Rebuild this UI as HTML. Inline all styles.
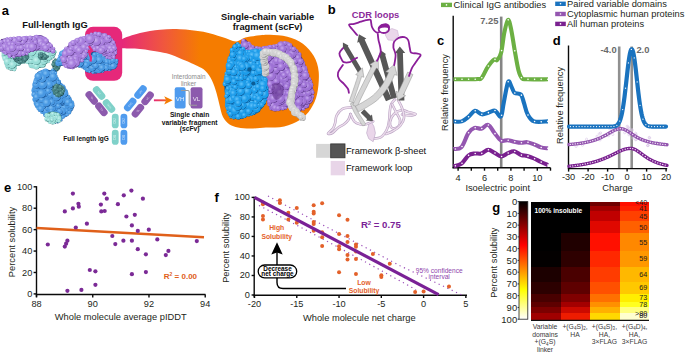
<!DOCTYPE html>
<html><head><meta charset="utf-8"><style>
html,body{margin:0;padding:0;background:#fff;width:685px;height:353px;overflow:hidden}
svg{display:block}
text{font-family:"Liberation Sans",sans-serif}
</style></head><body>
<svg width="685" height="353" viewBox="0 0 685 353" font-family="Liberation Sans">
<rect x="441" y="2.7" width="11" height="4.4" fill="#6cb043"/>
<circle cx="446.5" cy="4.9" r="0.8" fill="#fff"/>
<text x="453.6" y="8.2" font-size="9.3" text-anchor="start" font-weight="normal" fill="#231f20" >Clinical IgG antibodies</text>
<rect x="555.2" y="1.5999999999999996" width="10.599999999999909" height="4.4" fill="#1a73bf"/>
<circle cx="560.5" cy="3.8" r="0.8" fill="#fff"/>
<text x="567.1" y="7.1" font-size="9.3" text-anchor="start" font-weight="normal" fill="#231f20" >Paired variable domains</text>
<rect x="555.2" y="11.8" width="10.599999999999909" height="4.4" fill="#9456b0"/>
<circle cx="560.5" cy="14.0" r="0.8" fill="#fff"/>
<text x="567.1" y="17.2" font-size="9.3" text-anchor="start" font-weight="normal" fill="#231f20" >Cytoplasmic human proteins</text>
<rect x="555.2" y="21.7" width="10.599999999999909" height="4.4" fill="#7a2190"/>
<circle cx="560.5" cy="23.9" r="0.8" fill="#fff"/>
<text x="567.1" y="27.1" font-size="9.3" text-anchor="start" font-weight="normal" fill="#231f20" >All human proteins</text>
<text x="436.9" y="45.0" font-size="13" text-anchor="start" font-weight="bold" fill="#000" >c</text>
<line x1="501.2" y1="16.6" x2="501.2" y2="167.7" stroke="#858585" stroke-width="2.6" />
<text x="498.4" y="23.8" font-size="9.4" text-anchor="end" font-weight="bold" fill="#6a6a6a" >7.25</text>
<line x1="453.2" y1="15.8" x2="453.2" y2="168.3" stroke="#0a0a0a" stroke-width="1.4" />
<line x1="452.6" y1="167.7" x2="550.5" y2="167.7" stroke="#0a0a0a" stroke-width="1.4" />
<line x1="458.1" y1="167.7" x2="458.1" y2="170.7" stroke="#0a0a0a" stroke-width="1.4" />
<line x1="471.3" y1="167.7" x2="471.3" y2="170.7" stroke="#0a0a0a" stroke-width="1.4" />
<line x1="484.5" y1="167.7" x2="484.5" y2="170.7" stroke="#0a0a0a" stroke-width="1.4" />
<line x1="497.70000000000005" y1="167.7" x2="497.70000000000005" y2="170.7" stroke="#0a0a0a" stroke-width="1.4" />
<line x1="510.90000000000003" y1="167.7" x2="510.90000000000003" y2="170.7" stroke="#0a0a0a" stroke-width="1.4" />
<line x1="524.1" y1="167.7" x2="524.1" y2="170.7" stroke="#0a0a0a" stroke-width="1.4" />
<line x1="537.3" y1="167.7" x2="537.3" y2="170.7" stroke="#0a0a0a" stroke-width="1.4" />
<line x1="550.5" y1="167.7" x2="550.5" y2="170.7" stroke="#0a0a0a" stroke-width="1.4" />
<text x="458.1" y="180.5" font-size="9.2" text-anchor="middle" font-weight="normal" fill="#231f20" >4</text>
<text x="484.5" y="180.5" font-size="9.2" text-anchor="middle" font-weight="normal" fill="#231f20" >6</text>
<text x="510.90000000000003" y="180.5" font-size="9.2" text-anchor="middle" font-weight="normal" fill="#231f20" >8</text>
<text x="537.3" y="180.5" font-size="9.2" text-anchor="middle" font-weight="normal" fill="#231f20" >10</text>
<text x="497.7" y="190.8" font-size="9.3" text-anchor="middle" font-weight="normal" fill="#231f20" >Isoelectric point</text>
<text x="0" y="0" font-size="9.3" text-anchor="middle" font-weight="normal" fill="#231f20" transform="translate(448,92.5) rotate(-90)">Relative frequency</text>
<path d="M453.50,166.30 C454.83,165.85 459.02,165.40 461.50,163.60 C463.98,161.80 466.23,157.18 468.40,155.50 C470.57,153.82 472.33,153.83 474.50,153.50 C476.67,153.17 479.12,154.12 481.40,153.50 C483.68,152.88 485.98,149.90 488.20,149.80 C490.42,149.70 492.53,151.78 494.70,152.90 C496.87,154.02 499.02,156.45 501.20,156.50 C503.38,156.55 505.63,154.07 507.80,153.20 C509.97,152.33 511.98,151.00 514.20,151.30 C516.42,151.60 518.93,154.23 521.10,155.00 C523.27,155.77 525.03,155.32 527.20,155.90 C529.37,156.48 531.80,157.48 534.10,158.50 C536.40,159.52 538.68,160.90 541.00,162.00 C543.32,163.10 546.83,164.58 548.00,165.10" fill="none" stroke="#7a2190" stroke-width="4.1" stroke-linecap="butt" stroke-linejoin="round"/>
<circle cx="455.40" cy="165.85" r="0.8" fill="#fff"/>
<circle cx="462.00" cy="163.19" r="0.8" fill="#fff"/>
<circle cx="468.60" cy="155.35" r="0.8" fill="#fff"/>
<circle cx="475.20" cy="153.43" r="0.8" fill="#fff"/>
<circle cx="481.80" cy="153.37" r="0.8" fill="#fff"/>
<circle cx="488.40" cy="149.80" r="0.8" fill="#fff"/>
<circle cx="495.00" cy="153.06" r="0.8" fill="#fff"/>
<circle cx="501.60" cy="156.48" r="0.8" fill="#fff"/>
<circle cx="508.20" cy="153.03" r="0.8" fill="#fff"/>
<circle cx="514.80" cy="151.44" r="0.8" fill="#fff"/>
<circle cx="521.40" cy="155.10" r="0.8" fill="#fff"/>
<circle cx="528.00" cy="156.13" r="0.8" fill="#fff"/>
<circle cx="534.60" cy="158.73" r="0.8" fill="#fff"/>
<circle cx="541.20" cy="162.09" r="0.8" fill="#fff"/>
<circle cx="547.80" cy="165.01" r="0.8" fill="#fff"/>
<path d="M453.50,149.00 C454.83,148.68 459.02,149.77 461.50,147.10 C463.98,144.43 466.23,136.20 468.40,133.00 C470.57,129.80 472.33,128.62 474.50,127.90 C476.67,127.18 479.12,129.20 481.40,128.70 C483.68,128.20 485.98,124.13 488.20,124.90 C490.42,125.67 492.53,130.68 494.70,133.30 C496.87,135.92 499.02,139.45 501.20,140.60 C503.38,141.75 505.63,140.02 507.80,140.20 C509.97,140.38 511.98,141.27 514.20,141.70 C516.42,142.13 518.93,142.72 521.10,142.80 C523.27,142.88 525.03,141.95 527.20,142.20 C529.37,142.45 531.80,143.43 534.10,144.30 C536.40,145.17 538.68,146.73 541.00,147.40 C543.32,148.07 546.83,148.15 548.00,148.30" fill="none" stroke="#9456b0" stroke-width="4.1" stroke-linecap="butt" stroke-linejoin="round"/>
<circle cx="455.40" cy="148.95" r="0.8" fill="#fff"/>
<circle cx="462.00" cy="146.48" r="0.8" fill="#fff"/>
<circle cx="468.60" cy="132.71" r="0.8" fill="#fff"/>
<circle cx="475.20" cy="127.76" r="0.8" fill="#fff"/>
<circle cx="481.80" cy="128.57" r="0.8" fill="#fff"/>
<circle cx="488.40" cy="124.99" r="0.8" fill="#fff"/>
<circle cx="495.00" cy="133.67" r="0.8" fill="#fff"/>
<circle cx="501.60" cy="140.78" r="0.8" fill="#fff"/>
<circle cx="508.20" cy="140.24" r="0.8" fill="#fff"/>
<circle cx="514.80" cy="141.82" r="0.8" fill="#fff"/>
<circle cx="521.40" cy="142.80" r="0.8" fill="#fff"/>
<circle cx="528.00" cy="142.32" r="0.8" fill="#fff"/>
<circle cx="534.60" cy="144.50" r="0.8" fill="#fff"/>
<circle cx="541.20" cy="147.45" r="0.8" fill="#fff"/>
<circle cx="547.80" cy="148.28" r="0.8" fill="#fff"/>
<path d="M453.50,121.40 C454.87,121.40 459.17,122.18 461.70,121.40 C464.23,120.62 466.50,118.47 468.70,116.70 C470.90,114.93 472.70,111.20 474.90,110.80 C477.10,110.40 479.68,113.98 481.90,114.30 C484.12,114.62 486.12,113.33 488.20,112.70 C490.28,112.07 492.98,110.55 494.40,110.50 C495.82,110.45 495.58,111.43 496.70,112.40 C497.82,113.37 499.93,117.87 501.10,116.30 C502.27,114.73 502.53,108.72 503.70,103.00 C504.87,97.28 506.80,84.72 508.10,82.00 C509.40,79.28 510.42,84.88 511.50,86.70 C512.58,88.52 513.03,91.60 514.60,92.90 C516.17,94.20 519.33,92.82 520.90,94.50 C522.47,96.18 522.88,99.70 524.00,103.00 C525.12,106.30 525.92,111.23 527.60,114.30 C529.28,117.37 530.70,120.22 534.10,121.40 C537.50,122.58 545.68,121.40 548.00,121.40" fill="none" stroke="#1a73bf" stroke-width="4.1" stroke-linecap="butt" stroke-linejoin="round"/>
<circle cx="455.40" cy="121.55" r="0.8" fill="#fff"/>
<circle cx="462.00" cy="121.30" r="0.8" fill="#fff"/>
<circle cx="468.60" cy="116.78" r="0.8" fill="#fff"/>
<circle cx="475.20" cy="110.77" r="0.8" fill="#fff"/>
<circle cx="481.80" cy="114.28" r="0.8" fill="#fff"/>
<circle cx="488.40" cy="112.64" r="0.8" fill="#fff"/>
<circle cx="495.00" cy="110.56" r="0.8" fill="#fff"/>
<circle cx="501.60" cy="115.21" r="0.8" fill="#fff"/>
<circle cx="508.20" cy="81.82" r="0.8" fill="#fff"/>
<circle cx="514.80" cy="93.04" r="0.8" fill="#fff"/>
<circle cx="521.40" cy="95.16" r="0.8" fill="#fff"/>
<circle cx="528.00" cy="115.03" r="0.8" fill="#fff"/>
<circle cx="534.60" cy="121.55" r="0.8" fill="#fff"/>
<circle cx="541.20" cy="121.86" r="0.8" fill="#fff"/>
<circle cx="547.80" cy="121.40" r="0.8" fill="#fff"/>
<path d="M453.50,79.30 C456.25,79.30 465.92,79.35 470.00,79.30 C474.08,79.25 476.07,79.22 478.00,79.00 C479.93,78.78 479.97,80.02 481.60,78.00 C483.23,75.98 485.73,69.97 487.80,66.90 C489.87,63.83 492.45,60.75 494.00,59.60 C495.55,58.45 495.90,61.20 497.10,60.00 C498.30,58.80 500.00,56.95 501.20,52.40 C502.40,47.85 503.18,38.12 504.30,32.70 C505.42,27.28 506.78,20.58 507.90,19.90 C509.02,19.22 509.87,23.53 511.00,28.60 C512.13,33.67 513.47,43.40 514.70,50.30 C515.93,57.20 517.18,65.33 518.40,70.00 C519.62,74.67 520.55,76.75 522.00,78.30 C523.45,79.85 522.77,79.13 527.10,79.30 C531.43,79.47 544.52,79.30 548.00,79.30" fill="none" stroke="#6cb043" stroke-width="4.1" stroke-linecap="butt" stroke-linejoin="round"/>
<circle cx="455.40" cy="79.30" r="0.8" fill="#fff"/>
<circle cx="462.00" cy="79.32" r="0.8" fill="#fff"/>
<circle cx="468.60" cy="79.31" r="0.8" fill="#fff"/>
<circle cx="475.20" cy="79.20" r="0.8" fill="#fff"/>
<circle cx="481.80" cy="77.74" r="0.8" fill="#fff"/>
<circle cx="488.40" cy="66.03" r="0.8" fill="#fff"/>
<circle cx="495.00" cy="59.36" r="0.8" fill="#fff"/>
<circle cx="501.60" cy="50.62" r="0.8" fill="#fff"/>
<circle cx="508.20" cy="19.84" r="0.8" fill="#fff"/>
<circle cx="514.80" cy="50.86" r="0.8" fill="#fff"/>
<circle cx="521.40" cy="77.59" r="0.8" fill="#fff"/>
<circle cx="528.00" cy="79.33" r="0.8" fill="#fff"/>
<circle cx="534.60" cy="79.37" r="0.8" fill="#fff"/>
<circle cx="541.20" cy="79.34" r="0.8" fill="#fff"/>
<circle cx="547.80" cy="79.30" r="0.8" fill="#fff"/>
<text x="552.8" y="44.8" font-size="13" text-anchor="start" font-weight="bold" fill="#000" >d</text>
<line x1="619.2" y1="46.5" x2="619.2" y2="168.6" stroke="#909090" stroke-width="2.6" />
<line x1="631.7" y1="46.5" x2="631.7" y2="168.6" stroke="#909090" stroke-width="2.6" />
<text x="616.6" y="53.4" font-size="9.4" text-anchor="end" font-weight="bold" fill="#6a6a6a" >-4.0</text>
<text x="636.4" y="53.4" font-size="9.4" text-anchor="start" font-weight="bold" fill="#6a6a6a" >2.0</text>
<line x1="568.5" y1="45.5" x2="568.5" y2="169.2" stroke="#0a0a0a" stroke-width="1.4" />
<line x1="567.9" y1="168.6" x2="667.2" y2="168.6" stroke="#0a0a0a" stroke-width="1.4" />
<line x1="568.6" y1="168.6" x2="568.6" y2="171.6" stroke="#0a0a0a" stroke-width="1.4" />
<text x="568.6" y="180.3" font-size="9.2" text-anchor="middle" font-weight="normal" fill="#231f20" >-30</text>
<line x1="588.1" y1="168.6" x2="588.1" y2="171.6" stroke="#0a0a0a" stroke-width="1.4" />
<text x="588.1" y="180.3" font-size="9.2" text-anchor="middle" font-weight="normal" fill="#231f20" >-20</text>
<line x1="607.6" y1="168.6" x2="607.6" y2="171.6" stroke="#0a0a0a" stroke-width="1.4" />
<text x="607.6" y="180.3" font-size="9.2" text-anchor="middle" font-weight="normal" fill="#231f20" >-10</text>
<line x1="627.1" y1="168.6" x2="627.1" y2="171.6" stroke="#0a0a0a" stroke-width="1.4" />
<text x="627.1" y="180.3" font-size="9.2" text-anchor="middle" font-weight="normal" fill="#231f20" >0</text>
<line x1="646.6" y1="168.6" x2="646.6" y2="171.6" stroke="#0a0a0a" stroke-width="1.4" />
<text x="646.6" y="180.3" font-size="9.2" text-anchor="middle" font-weight="normal" fill="#231f20" >10</text>
<line x1="666.1" y1="168.6" x2="666.1" y2="171.6" stroke="#0a0a0a" stroke-width="1.4" />
<text x="666.1" y="180.3" font-size="9.2" text-anchor="middle" font-weight="normal" fill="#231f20" >20</text>
<text x="617.5" y="191" font-size="9.3" text-anchor="middle" font-weight="normal" fill="#231f20" >Charge</text>
<text x="0" y="0" font-size="9.3" text-anchor="middle" font-weight="normal" fill="#231f20" transform="translate(563,105.4) rotate(-90)">Relative frequency</text>
<path d="M569.00,166.29 L569.50,166.24 L570.00,166.19 L570.50,166.14 L571.00,166.08 L571.50,166.03 L572.00,165.97 L572.50,165.92 L573.00,165.86 L573.50,165.80 L574.00,165.74 L574.50,165.68 L575.00,165.62 L575.50,165.55 L576.00,165.49 L576.50,165.42 L577.00,165.36 L577.50,165.29 L578.00,165.22 L578.50,165.14 L579.00,165.07 L579.50,165.00 L580.00,164.92 L580.50,164.84 L581.00,164.76 L581.50,164.68 L582.00,164.60 L582.50,164.52 L583.00,164.43 L583.50,164.34 L584.00,164.25 L584.50,164.16 L585.00,164.07 L585.50,163.97 L586.00,163.87 L586.50,163.77 L587.00,163.67 L587.50,163.57 L588.00,163.46 L588.50,163.35 L589.00,163.24 L589.50,163.13 L590.00,163.01 L590.50,162.90 L591.00,162.78 L591.50,162.65 L592.00,162.53 L592.50,162.40 L593.00,162.27 L593.50,162.13 L594.00,162.00 L594.50,161.86 L595.00,161.72 L595.50,161.57 L596.00,161.42 L596.50,161.27 L597.00,161.12 L597.50,160.96 L598.00,160.80 L598.50,160.63 L599.00,160.47 L599.50,160.30 L600.00,160.12 L600.50,159.94 L601.00,159.76 L601.50,159.58 L602.00,159.39 L602.50,159.20 L603.00,159.01 L603.50,158.81 L604.00,158.61 L604.50,158.40 L605.00,158.19 L605.50,157.98 L606.00,157.77 L606.50,157.55 L607.00,157.33 L607.50,157.10 L608.00,156.88 L608.50,156.64 L609.00,156.41 L609.50,156.18 L610.00,155.94 L610.50,155.70 L611.00,155.45 L611.50,155.21 L612.00,154.96 L612.50,154.72 L613.00,154.47 L613.50,154.22 L614.00,153.97 L614.50,153.72 L615.00,153.47 L615.50,153.22 L616.00,152.97 L616.50,152.72 L617.00,152.47 L617.50,152.23 L618.00,151.99 L618.50,151.75 L619.00,151.52 L619.50,151.29 L620.00,151.06 L620.50,150.84 L621.00,150.63 L621.50,150.42 L622.00,150.22 L622.50,150.03 L623.00,149.85 L623.50,149.67 L624.00,149.50 L624.50,149.35 L625.00,149.20 L625.50,149.07 L626.00,148.94 L626.50,148.83 L627.00,148.73 L627.50,148.65 L628.00,148.57 L628.50,148.51 L629.00,148.46 L629.50,148.43 L630.00,148.41 L630.50,148.40 L631.00,148.41 L631.50,148.46 L632.00,148.53 L632.50,148.64 L633.00,148.77 L633.50,148.93 L634.00,149.11 L634.50,149.32 L635.00,149.55 L635.50,149.80 L636.00,150.07 L636.50,150.36 L637.00,150.66 L637.50,150.98 L638.00,151.31 L638.50,151.65 L639.00,152.00 L639.50,152.36 L640.00,152.72 L640.50,153.09 L641.00,153.45 L641.50,153.82 L642.00,154.19 L642.50,154.56 L643.00,154.92 L643.50,155.29 L644.00,155.65 L644.50,156.00 L645.00,156.35 L645.50,156.69 L646.00,157.03 L646.50,157.36 L647.00,157.69 L647.50,158.00 L648.00,158.31 L648.50,158.62 L649.00,158.91 L649.50,159.20 L650.00,159.48 L650.50,159.75 L651.00,160.02 L651.50,160.28 L652.00,160.53 L652.50,160.77 L653.00,161.01 L653.50,161.24 L654.00,161.46 L654.50,161.68 L655.00,161.89 L655.50,162.09 L656.00,162.29 L656.50,162.48 L657.00,162.67 L657.50,162.85 L658.00,163.02 L658.50,163.19 L659.00,163.35 L659.50,163.51 L660.00,163.67 L660.50,163.82 L661.00,163.96 L661.50,164.10 L662.00,164.24 L662.50,164.37 L663.00,164.50 L663.50,164.62 L664.00,164.74 L664.50,164.86 L665.00,164.97 L665.50,165.08 L666.00,165.19 L666.50,165.29 L667.00,165.39" fill="none" stroke="#7a2190" stroke-width="3.4" stroke-linecap="round" stroke-linejoin="round"/>
<circle cx="570.25" cy="166.16" r="0.65" fill="#fff"/>
<circle cx="572.75" cy="165.89" r="0.65" fill="#fff"/>
<circle cx="575.25" cy="165.59" r="0.65" fill="#fff"/>
<circle cx="577.75" cy="165.25" r="0.65" fill="#fff"/>
<circle cx="580.25" cy="164.88" r="0.65" fill="#fff"/>
<circle cx="582.75" cy="164.47" r="0.65" fill="#fff"/>
<circle cx="585.25" cy="164.02" r="0.65" fill="#fff"/>
<circle cx="587.75" cy="163.52" r="0.65" fill="#fff"/>
<circle cx="590.25" cy="162.96" r="0.65" fill="#fff"/>
<circle cx="592.75" cy="162.33" r="0.65" fill="#fff"/>
<circle cx="595.25" cy="161.64" r="0.65" fill="#fff"/>
<circle cx="597.75" cy="160.88" r="0.65" fill="#fff"/>
<circle cx="600.25" cy="160.03" r="0.65" fill="#fff"/>
<circle cx="602.75" cy="159.10" r="0.65" fill="#fff"/>
<circle cx="605.25" cy="158.09" r="0.65" fill="#fff"/>
<circle cx="607.75" cy="156.99" r="0.65" fill="#fff"/>
<circle cx="610.25" cy="155.82" r="0.65" fill="#fff"/>
<circle cx="612.75" cy="154.59" r="0.65" fill="#fff"/>
<circle cx="615.25" cy="153.34" r="0.65" fill="#fff"/>
<circle cx="617.75" cy="152.11" r="0.65" fill="#fff"/>
<circle cx="620.25" cy="150.95" r="0.65" fill="#fff"/>
<circle cx="622.75" cy="149.94" r="0.65" fill="#fff"/>
<circle cx="625.25" cy="149.13" r="0.65" fill="#fff"/>
<circle cx="627.75" cy="148.61" r="0.65" fill="#fff"/>
<circle cx="630.25" cy="148.40" r="0.65" fill="#fff"/>
<circle cx="632.75" cy="148.70" r="0.65" fill="#fff"/>
<circle cx="635.25" cy="149.67" r="0.65" fill="#fff"/>
<circle cx="637.75" cy="151.15" r="0.65" fill="#fff"/>
<circle cx="640.25" cy="152.90" r="0.65" fill="#fff"/>
<circle cx="642.75" cy="154.74" r="0.65" fill="#fff"/>
<circle cx="645.25" cy="156.52" r="0.65" fill="#fff"/>
<circle cx="647.75" cy="158.16" r="0.65" fill="#fff"/>
<circle cx="650.25" cy="159.62" r="0.65" fill="#fff"/>
<circle cx="652.75" cy="160.89" r="0.65" fill="#fff"/>
<circle cx="655.25" cy="161.99" r="0.65" fill="#fff"/>
<circle cx="657.75" cy="162.93" r="0.65" fill="#fff"/>
<circle cx="660.25" cy="163.74" r="0.65" fill="#fff"/>
<circle cx="662.75" cy="164.43" r="0.65" fill="#fff"/>
<circle cx="665.25" cy="165.03" r="0.65" fill="#fff"/>
<circle cx="595.2" cy="139.8" r="1.1" fill="none" stroke="#d9c6e6" stroke-width="0.6"/>
<circle cx="606.4" cy="135.2" r="1.1" fill="none" stroke="#d9c6e6" stroke-width="0.6"/>
<circle cx="628.2" cy="127.1" r="1.1" fill="none" stroke="#d9c6e6" stroke-width="0.6"/>
<circle cx="576.1" cy="146.4" r="1.1" fill="none" stroke="#d9c6e6" stroke-width="0.6"/>
<circle cx="597.0" cy="136.3" r="1.1" fill="none" stroke="#d9c6e6" stroke-width="0.6"/>
<circle cx="659.6" cy="143.2" r="1.1" fill="none" stroke="#d9c6e6" stroke-width="0.6"/>
<circle cx="646.1" cy="140.4" r="1.1" fill="none" stroke="#d9c6e6" stroke-width="0.6"/>
<circle cx="629.3" cy="128.6" r="1.1" fill="none" stroke="#d9c6e6" stroke-width="0.6"/>
<circle cx="629.0" cy="134.8" r="1.1" fill="none" stroke="#d9c6e6" stroke-width="0.6"/>
<circle cx="619.5" cy="130.4" r="1.1" fill="none" stroke="#d9c6e6" stroke-width="0.6"/>
<circle cx="632.1" cy="129.7" r="1.1" fill="none" stroke="#d9c6e6" stroke-width="0.6"/>
<circle cx="639.4" cy="138.8" r="1.1" fill="none" stroke="#d9c6e6" stroke-width="0.6"/>
<circle cx="600.6" cy="133.0" r="1.1" fill="none" stroke="#d9c6e6" stroke-width="0.6"/>
<circle cx="648.6" cy="141.1" r="1.1" fill="none" stroke="#d9c6e6" stroke-width="0.6"/>
<circle cx="636.1" cy="139.6" r="1.1" fill="none" stroke="#d9c6e6" stroke-width="0.6"/>
<circle cx="635.7" cy="139.7" r="1.1" fill="none" stroke="#d9c6e6" stroke-width="0.6"/>
<circle cx="608.6" cy="135.7" r="1.1" fill="none" stroke="#d9c6e6" stroke-width="0.6"/>
<circle cx="612.8" cy="134.5" r="1.1" fill="none" stroke="#d9c6e6" stroke-width="0.6"/>
<circle cx="649.7" cy="138.0" r="1.1" fill="none" stroke="#d9c6e6" stroke-width="0.6"/>
<circle cx="586.6" cy="139.2" r="1.1" fill="none" stroke="#d9c6e6" stroke-width="0.6"/>
<circle cx="657.1" cy="142.5" r="1.1" fill="none" stroke="#d9c6e6" stroke-width="0.6"/>
<circle cx="628.3" cy="129.3" r="1.1" fill="none" stroke="#d9c6e6" stroke-width="0.6"/>
<circle cx="618.1" cy="127.5" r="1.1" fill="none" stroke="#d9c6e6" stroke-width="0.6"/>
<circle cx="604.8" cy="135.9" r="1.1" fill="none" stroke="#d9c6e6" stroke-width="0.6"/>
<circle cx="624.7" cy="132.7" r="1.1" fill="none" stroke="#d9c6e6" stroke-width="0.6"/>
<circle cx="633.0" cy="138.1" r="1.1" fill="none" stroke="#d9c6e6" stroke-width="0.6"/>
<circle cx="647.8" cy="145.5" r="1.1" fill="none" stroke="#d9c6e6" stroke-width="0.6"/>
<circle cx="632.1" cy="130.6" r="1.1" fill="none" stroke="#d9c6e6" stroke-width="0.6"/>
<circle cx="648.2" cy="145.4" r="1.1" fill="none" stroke="#d9c6e6" stroke-width="0.6"/>
<circle cx="651.9" cy="142.7" r="1.1" fill="none" stroke="#d9c6e6" stroke-width="0.6"/>
<circle cx="635.7" cy="133.3" r="1.1" fill="none" stroke="#d9c6e6" stroke-width="0.6"/>
<circle cx="645.7" cy="141.1" r="1.1" fill="none" stroke="#d9c6e6" stroke-width="0.6"/>
<circle cx="599.2" cy="133.9" r="1.1" fill="none" stroke="#d9c6e6" stroke-width="0.6"/>
<circle cx="647.6" cy="145.5" r="1.1" fill="none" stroke="#d9c6e6" stroke-width="0.6"/>
<circle cx="582.5" cy="145.2" r="1.1" fill="none" stroke="#d9c6e6" stroke-width="0.6"/>
<circle cx="609.9" cy="129.1" r="1.1" fill="none" stroke="#d9c6e6" stroke-width="0.6"/>
<circle cx="600.0" cy="140.0" r="1.1" fill="none" stroke="#d9c6e6" stroke-width="0.6"/>
<circle cx="649.2" cy="137.4" r="1.1" fill="none" stroke="#d9c6e6" stroke-width="0.6"/>
<circle cx="627.2" cy="126.3" r="1.1" fill="none" stroke="#d9c6e6" stroke-width="0.6"/>
<circle cx="636.1" cy="134.6" r="1.1" fill="none" stroke="#d9c6e6" stroke-width="0.6"/>
<path d="M569.00,144.56 L569.50,144.51 L570.00,144.47 L570.50,144.43 L571.00,144.38 L571.50,144.34 L572.00,144.29 L572.50,144.24 L573.00,144.19 L573.50,144.14 L574.00,144.09 L574.50,144.04 L575.00,143.98 L575.50,143.93 L576.00,143.87 L576.50,143.81 L577.00,143.75 L577.50,143.69 L578.00,143.63 L578.50,143.56 L579.00,143.49 L579.50,143.43 L580.00,143.35 L580.50,143.28 L581.00,143.21 L581.50,143.13 L582.00,143.05 L582.50,142.97 L583.00,142.89 L583.50,142.80 L584.00,142.71 L584.50,142.62 L585.00,142.53 L585.50,142.43 L586.00,142.33 L586.50,142.23 L587.00,142.13 L587.50,142.02 L588.00,141.91 L588.50,141.80 L589.00,141.68 L589.50,141.56 L590.00,141.43 L590.50,141.30 L591.00,141.17 L591.50,141.04 L592.00,140.90 L592.50,140.75 L593.00,140.61 L593.50,140.45 L594.00,140.30 L594.50,140.14 L595.00,139.97 L595.50,139.80 L596.00,139.62 L596.50,139.44 L597.00,139.26 L597.50,139.06 L598.00,138.87 L598.50,138.67 L599.00,138.46 L599.50,138.25 L600.00,138.03 L600.50,137.80 L601.00,137.58 L601.50,137.34 L602.00,137.10 L602.50,136.85 L603.00,136.60 L603.50,136.35 L604.00,136.09 L604.50,135.82 L605.00,135.55 L605.50,135.27 L606.00,135.00 L606.50,134.71 L607.00,134.43 L607.50,134.14 L608.00,133.85 L608.50,133.56 L609.00,133.26 L609.50,132.97 L610.00,132.68 L610.50,132.39 L611.00,132.10 L611.50,131.82 L612.00,131.54 L612.50,131.27 L613.00,131.00 L613.50,130.74 L614.00,130.50 L614.50,130.26 L615.00,130.04 L615.50,129.83 L616.00,129.63 L616.50,129.45 L617.00,129.29 L617.50,129.14 L618.00,129.02 L618.50,128.91 L619.00,128.83 L619.50,128.76 L620.00,128.72 L620.50,128.70 L621.00,128.71 L621.50,128.74 L622.00,128.80 L622.50,128.89 L623.00,129.01 L623.50,129.16 L624.00,129.33 L624.50,129.52 L625.00,129.74 L625.50,129.98 L626.00,130.24 L626.50,130.51 L627.00,130.80 L627.50,131.10 L628.00,131.41 L628.50,131.73 L629.00,132.06 L629.50,132.39 L630.00,132.73 L630.50,133.07 L631.00,133.41 L631.50,133.75 L632.00,134.08 L632.50,134.42 L633.00,134.75 L633.50,135.08 L634.00,135.40 L634.50,135.72 L635.00,136.03 L635.50,136.33 L636.00,136.63 L636.50,136.92 L637.00,137.20 L637.50,137.48 L638.00,137.74 L638.50,138.01 L639.00,138.26 L639.50,138.50 L640.00,138.74 L640.50,138.97 L641.00,139.20 L641.50,139.42 L642.00,139.63 L642.50,139.83 L643.00,140.03 L643.50,140.22 L644.00,140.40 L644.50,140.58 L645.00,140.75 L645.50,140.92 L646.00,141.08 L646.50,141.23 L647.00,141.38 L647.50,141.53 L648.00,141.67 L648.50,141.81 L649.00,141.94 L649.50,142.07 L650.00,142.19 L650.50,142.31 L651.00,142.42 L651.50,142.53 L652.00,142.64 L652.50,142.75 L653.00,142.85 L653.50,142.94 L654.00,143.04 L654.50,143.13 L655.00,143.22 L655.50,143.31 L656.00,143.39 L656.50,143.47 L657.00,143.55 L657.50,143.62 L658.00,143.70 L658.50,143.77 L659.00,143.84 L659.50,143.91 L660.00,143.97 L660.50,144.04 L661.00,144.10 L661.50,144.16 L662.00,144.21 L662.50,144.27 L663.00,144.33 L663.50,144.38 L664.00,144.43 L664.50,144.48 L665.00,144.53 L665.50,144.58 L666.00,144.62 L666.50,144.67 L667.00,144.71" fill="none" stroke="#9456b0" stroke-width="3.4" stroke-linecap="round" stroke-linejoin="round"/>
<circle cx="570.25" cy="144.45" r="0.65" fill="#fff"/>
<circle cx="572.75" cy="144.22" r="0.65" fill="#fff"/>
<circle cx="575.25" cy="143.96" r="0.65" fill="#fff"/>
<circle cx="577.75" cy="143.66" r="0.65" fill="#fff"/>
<circle cx="580.25" cy="143.32" r="0.65" fill="#fff"/>
<circle cx="582.75" cy="142.93" r="0.65" fill="#fff"/>
<circle cx="585.25" cy="142.48" r="0.65" fill="#fff"/>
<circle cx="587.75" cy="141.97" r="0.65" fill="#fff"/>
<circle cx="590.25" cy="141.37" r="0.65" fill="#fff"/>
<circle cx="592.75" cy="140.68" r="0.65" fill="#fff"/>
<circle cx="595.25" cy="139.88" r="0.65" fill="#fff"/>
<circle cx="597.75" cy="138.97" r="0.65" fill="#fff"/>
<circle cx="600.25" cy="137.92" r="0.65" fill="#fff"/>
<circle cx="602.75" cy="136.73" r="0.65" fill="#fff"/>
<circle cx="605.25" cy="135.41" r="0.65" fill="#fff"/>
<circle cx="607.75" cy="133.99" r="0.65" fill="#fff"/>
<circle cx="610.25" cy="132.53" r="0.65" fill="#fff"/>
<circle cx="612.75" cy="131.13" r="0.65" fill="#fff"/>
<circle cx="615.25" cy="129.93" r="0.65" fill="#fff"/>
<circle cx="617.75" cy="129.08" r="0.65" fill="#fff"/>
<circle cx="620.25" cy="128.71" r="0.65" fill="#fff"/>
<circle cx="622.75" cy="128.95" r="0.65" fill="#fff"/>
<circle cx="625.25" cy="129.86" r="0.65" fill="#fff"/>
<circle cx="627.75" cy="131.26" r="0.65" fill="#fff"/>
<circle cx="630.25" cy="132.90" r="0.65" fill="#fff"/>
<circle cx="632.75" cy="134.59" r="0.65" fill="#fff"/>
<circle cx="635.25" cy="136.18" r="0.65" fill="#fff"/>
<circle cx="637.75" cy="137.61" r="0.65" fill="#fff"/>
<circle cx="640.25" cy="138.86" r="0.65" fill="#fff"/>
<circle cx="642.75" cy="139.93" r="0.65" fill="#fff"/>
<circle cx="645.25" cy="140.83" r="0.65" fill="#fff"/>
<circle cx="647.75" cy="141.60" r="0.65" fill="#fff"/>
<circle cx="650.25" cy="142.25" r="0.65" fill="#fff"/>
<circle cx="652.75" cy="142.80" r="0.65" fill="#fff"/>
<circle cx="655.25" cy="143.26" r="0.65" fill="#fff"/>
<circle cx="657.75" cy="143.66" r="0.65" fill="#fff"/>
<circle cx="660.25" cy="144.00" r="0.65" fill="#fff"/>
<circle cx="662.75" cy="144.30" r="0.65" fill="#fff"/>
<circle cx="665.25" cy="144.55" r="0.65" fill="#fff"/>
<path d="M569.00,126.60 L569.50,126.60 L570.00,126.60 L570.50,126.60 L571.00,126.60 L571.50,126.60 L572.00,126.60 L572.50,126.60 L573.00,126.60 L573.50,126.60 L574.00,126.60 L574.50,126.60 L575.00,126.60 L575.50,126.60 L576.00,126.60 L576.50,126.60 L577.00,126.60 L577.50,126.60 L578.00,126.60 L578.50,126.60 L579.00,126.60 L579.50,126.60 L580.00,126.60 L580.50,126.60 L581.00,126.60 L581.50,126.60 L582.00,126.60 L582.50,126.60 L583.00,126.60 L583.50,126.60 L584.00,126.60 L584.50,126.60 L585.00,126.60 L585.50,126.60 L586.00,126.60 L586.50,126.60 L587.00,126.60 L587.50,126.60 L588.00,126.60 L588.50,126.60 L589.00,126.60 L589.50,126.60 L590.00,126.60 L590.50,126.60 L591.00,126.60 L591.50,126.60 L592.00,126.60 L592.50,126.60 L593.00,126.60 L593.50,126.60 L594.00,126.60 L594.50,126.60 L595.00,126.60 L595.50,126.60 L596.00,126.60 L596.50,126.60 L597.00,126.60 L597.50,126.60 L598.00,126.60 L598.50,126.60 L599.00,126.60 L599.50,126.60 L600.00,126.60 L600.50,126.60 L601.00,126.60 L601.50,126.60 L602.00,126.60 L602.50,126.60 L603.00,126.60 L603.50,126.60 L604.00,126.60 L604.50,126.60 L605.00,126.60 L605.50,126.60 L606.00,126.60 L606.50,126.60 L607.00,126.60 L607.50,126.60 L608.00,126.60 L608.50,126.60 L609.00,126.59 L609.50,126.59 L610.00,126.59 L610.50,126.58 L611.00,126.57 L611.50,126.56 L612.00,126.54 L612.50,126.52 L613.00,126.48 L613.50,126.43 L614.00,126.36 L614.50,126.27 L615.00,126.15 L615.50,126.00 L616.00,125.79 L616.50,125.52 L617.00,125.18 L617.50,124.74 L618.00,124.19 L618.50,123.51 L619.00,122.68 L619.50,121.66 L620.00,120.44 L620.50,118.99 L621.00,117.28 L621.50,115.30 L622.00,113.01 L622.50,110.42 L623.00,107.51 L623.50,104.28 L624.00,100.74 L624.50,96.92 L625.00,92.85 L625.50,88.58 L626.00,84.16 L626.50,79.65 L627.00,75.16 L627.50,70.74 L628.00,66.51 L628.50,62.55 L629.00,58.96 L629.50,55.83 L630.00,53.23 L630.50,51.23 L631.00,49.90 L631.50,49.26 L632.00,49.33 L632.50,50.11 L633.00,51.58 L633.50,53.70 L634.00,56.41 L634.50,59.65 L635.00,63.32 L635.50,67.34 L636.00,71.61 L636.50,76.05 L637.00,80.56 L637.50,85.05 L638.00,89.45 L638.50,93.68 L639.00,97.71 L639.50,101.47 L640.00,104.95 L640.50,108.11 L641.00,110.96 L641.50,113.49 L642.00,115.72 L642.50,117.65 L643.00,119.30 L643.50,120.70 L644.00,121.88 L644.50,122.86 L645.00,123.66 L645.50,124.31 L646.00,124.84 L646.50,125.25 L647.00,125.58 L647.50,125.83 L648.00,126.03 L648.50,126.18 L649.00,126.29 L649.50,126.38 L650.00,126.44 L650.50,126.49 L651.00,126.52 L651.50,126.54 L652.00,126.56 L652.50,126.57 L653.00,126.58 L653.50,126.59 L654.00,126.59 L654.50,126.59 L655.00,126.60 L655.50,126.60 L656.00,126.60 L656.50,126.60 L657.00,126.60 L657.50,126.60 L658.00,126.60 L658.50,126.60 L659.00,126.60 L659.50,126.60 L660.00,126.60 L660.50,126.60 L661.00,126.60 L661.50,126.60 L662.00,126.60 L662.50,126.60 L663.00,126.60 L663.50,126.60 L664.00,126.60 L664.50,126.60 L665.00,126.60 L665.50,126.60 L666.00,126.60" fill="none" stroke="#1a73bf" stroke-width="4.2" stroke-linecap="round" stroke-linejoin="round"/>
<circle cx="570.45" cy="126.60" r="0.65" fill="#fff"/>
<circle cx="573.35" cy="126.60" r="0.65" fill="#fff"/>
<circle cx="576.25" cy="126.60" r="0.65" fill="#fff"/>
<circle cx="579.15" cy="126.60" r="0.65" fill="#fff"/>
<circle cx="582.05" cy="126.60" r="0.65" fill="#fff"/>
<circle cx="584.95" cy="126.60" r="0.65" fill="#fff"/>
<circle cx="587.85" cy="126.60" r="0.65" fill="#fff"/>
<circle cx="590.75" cy="126.60" r="0.65" fill="#fff"/>
<circle cx="593.65" cy="126.60" r="0.65" fill="#fff"/>
<circle cx="596.55" cy="126.60" r="0.65" fill="#fff"/>
<circle cx="599.45" cy="126.60" r="0.65" fill="#fff"/>
<circle cx="602.35" cy="126.60" r="0.65" fill="#fff"/>
<circle cx="605.25" cy="126.60" r="0.65" fill="#fff"/>
<circle cx="608.15" cy="126.60" r="0.65" fill="#fff"/>
<circle cx="611.05" cy="126.57" r="0.65" fill="#fff"/>
<circle cx="613.95" cy="126.37" r="0.65" fill="#fff"/>
<circle cx="616.85" cy="125.29" r="0.65" fill="#fff"/>
<circle cx="619.75" cy="121.08" r="0.65" fill="#fff"/>
<circle cx="622.65" cy="109.58" r="0.65" fill="#fff"/>
<circle cx="625.55" cy="88.14" r="0.65" fill="#fff"/>
<circle cx="628.45" cy="62.93" r="0.65" fill="#fff"/>
<circle cx="631.35" cy="49.38" r="0.65" fill="#fff"/>
<circle cx="634.25" cy="57.97" r="0.65" fill="#fff"/>
<circle cx="637.15" cy="81.91" r="0.65" fill="#fff"/>
<circle cx="640.05" cy="105.28" r="0.65" fill="#fff"/>
<circle cx="642.95" cy="119.15" r="0.65" fill="#fff"/>
<circle cx="645.85" cy="124.69" r="0.65" fill="#fff"/>
<circle cx="648.75" cy="126.24" r="0.65" fill="#fff"/>
<circle cx="651.65" cy="126.55" r="0.65" fill="#fff"/>
<circle cx="654.55" cy="126.60" r="0.65" fill="#fff"/>
<circle cx="657.45" cy="126.60" r="0.65" fill="#fff"/>
<circle cx="660.35" cy="126.60" r="0.65" fill="#fff"/>
<circle cx="663.25" cy="126.60" r="0.65" fill="#fff"/>
<text x="3.9" y="192.1" font-size="13" text-anchor="start" font-weight="bold" fill="#000" >e</text>
<line x1="36.5" y1="186.2" x2="36.5" y2="297.2" stroke="#0a0a0a" stroke-width="1.4" />
<line x1="35.8" y1="294.5" x2="205.5" y2="294.5" stroke="#0a0a0a" stroke-width="1.4" />
<line x1="33.6" y1="293.9" x2="36.5" y2="293.9" stroke="#0a0a0a" stroke-width="1.4" />
<text x="32.3" y="297.09999999999997" font-size="9.2" text-anchor="end" font-weight="normal" fill="#231f20" >0</text>
<line x1="33.6" y1="272.47999999999996" x2="36.5" y2="272.47999999999996" stroke="#0a0a0a" stroke-width="1.4" />
<text x="32.3" y="275.67999999999995" font-size="9.2" text-anchor="end" font-weight="normal" fill="#231f20" >20</text>
<line x1="33.6" y1="251.06" x2="36.5" y2="251.06" stroke="#0a0a0a" stroke-width="1.4" />
<text x="32.3" y="254.26" font-size="9.2" text-anchor="end" font-weight="normal" fill="#231f20" >40</text>
<line x1="33.6" y1="229.64" x2="36.5" y2="229.64" stroke="#0a0a0a" stroke-width="1.4" />
<text x="32.3" y="232.83999999999997" font-size="9.2" text-anchor="end" font-weight="normal" fill="#231f20" >60</text>
<line x1="33.6" y1="208.22000000000003" x2="36.5" y2="208.22000000000003" stroke="#0a0a0a" stroke-width="1.4" />
<text x="32.3" y="211.42000000000002" font-size="9.2" text-anchor="end" font-weight="normal" fill="#231f20" >80</text>
<line x1="33.6" y1="186.8" x2="36.5" y2="186.8" stroke="#0a0a0a" stroke-width="1.4" />
<text x="32.3" y="190.0" font-size="9.2" text-anchor="end" font-weight="normal" fill="#231f20" >100</text>
<line x1="36.5" y1="294.5" x2="36.5" y2="297.4" stroke="#0a0a0a" stroke-width="1.4" />
<text x="36.5" y="306.5" font-size="9.2" text-anchor="middle" font-weight="normal" fill="#231f20" >88</text>
<line x1="92.74000000000001" y1="294.5" x2="92.74000000000001" y2="297.4" stroke="#0a0a0a" stroke-width="1.4" />
<text x="92.74000000000001" y="306.5" font-size="9.2" text-anchor="middle" font-weight="normal" fill="#231f20" >90</text>
<line x1="148.98000000000002" y1="294.5" x2="148.98000000000002" y2="297.4" stroke="#0a0a0a" stroke-width="1.4" />
<text x="148.98000000000002" y="306.5" font-size="9.2" text-anchor="middle" font-weight="normal" fill="#231f20" >92</text>
<line x1="205.22" y1="294.5" x2="205.22" y2="297.4" stroke="#0a0a0a" stroke-width="1.4" />
<text x="205.22" y="306.5" font-size="9.2" text-anchor="middle" font-weight="normal" fill="#231f20" >94</text>
<text x="120.7" y="320" font-size="9.3" text-anchor="middle" font-weight="normal" fill="#231f20" >Whole molecule average pIDDT</text>
<text x="0" y="0" font-size="9.3" text-anchor="middle" font-weight="normal" fill="#231f20" transform="translate(15.2,242) rotate(-90)">Percent solubility</text>
<line x1="36.5" y1="228" x2="204" y2="237.3" stroke="#e0601a" stroke-width="2.6" />
<text x="163.8" y="279.0" font-size="8.0" text-anchor="start" font-weight="bold" fill="#e0601a" >R<tspan font-size="5" dy="-3">2</tspan><tspan dy="3"> = 0.00</tspan></text>
<circle cx="47.8" cy="244.5" r="2.1" fill="#7b2a96"/>
<circle cx="64.8" cy="246.6" r="2.1" fill="#7b2a96"/>
<circle cx="66.1" cy="243.7" r="2.1" fill="#7b2a96"/>
<circle cx="67.4" cy="240.7" r="2.1" fill="#7b2a96"/>
<circle cx="64.8" cy="211.4" r="2.1" fill="#7b2a96"/>
<circle cx="72.9" cy="193.6" r="2.1" fill="#7b2a96"/>
<circle cx="72.9" cy="208.4" r="2.1" fill="#7b2a96"/>
<circle cx="78.4" cy="203.8" r="2.1" fill="#7b2a96"/>
<circle cx="78.8" cy="206.7" r="2.1" fill="#7b2a96"/>
<circle cx="75.8" cy="227.5" r="2.1" fill="#7b2a96"/>
<circle cx="86.9" cy="223.7" r="2.1" fill="#7b2a96"/>
<circle cx="67.4" cy="290.8" r="2.1" fill="#7b2a96"/>
<circle cx="81.4" cy="289.9" r="2.1" fill="#7b2a96"/>
<circle cx="89.8" cy="270" r="2.1" fill="#7b2a96"/>
<circle cx="95.4" cy="271.3" r="2.1" fill="#7b2a96"/>
<circle cx="95.4" cy="284.8" r="2.1" fill="#7b2a96"/>
<circle cx="100.9" cy="204.6" r="2.1" fill="#7b2a96"/>
<circle cx="104.3" cy="193.6" r="2.1" fill="#7b2a96"/>
<circle cx="106.8" cy="198.7" r="2.1" fill="#7b2a96"/>
<circle cx="101.3" cy="211.4" r="2.1" fill="#7b2a96"/>
<circle cx="104.7" cy="211" r="2.1" fill="#7b2a96"/>
<circle cx="112.3" cy="236" r="2.1" fill="#7b2a96"/>
<circle cx="115.3" cy="244.1" r="2.1" fill="#7b2a96"/>
<circle cx="117.9" cy="204.2" r="2.1" fill="#7b2a96"/>
<circle cx="123.4" cy="240.7" r="2.1" fill="#7b2a96"/>
<circle cx="123.8" cy="195.3" r="2.1" fill="#7b2a96"/>
<circle cx="126.4" cy="216.5" r="2.1" fill="#7b2a96"/>
<circle cx="131.4" cy="190.6" r="2.1" fill="#7b2a96"/>
<circle cx="131.9" cy="225.4" r="2.1" fill="#7b2a96"/>
<circle cx="131.9" cy="240.7" r="2.1" fill="#7b2a96"/>
<circle cx="134.8" cy="214.8" r="2.1" fill="#7b2a96"/>
<circle cx="137.8" cy="230.9" r="2.1" fill="#7b2a96"/>
<circle cx="137.8" cy="249.2" r="2.1" fill="#7b2a96"/>
<circle cx="142.9" cy="198.7" r="2.1" fill="#7b2a96"/>
<circle cx="145.9" cy="254.3" r="2.1" fill="#7b2a96"/>
<circle cx="148.8" cy="229.7" r="2.1" fill="#7b2a96"/>
<circle cx="145.9" cy="272.1" r="2.1" fill="#7b2a96"/>
<circle cx="131.9" cy="274.2" r="2.1" fill="#7b2a96"/>
<circle cx="157.3" cy="239.4" r="2.1" fill="#7b2a96"/>
<circle cx="165.8" cy="255.1" r="2.1" fill="#7b2a96"/>
<circle cx="168.4" cy="250.9" r="2.1" fill="#7b2a96"/>
<circle cx="196.8" cy="241.1" r="2.1" fill="#7b2a96"/>
<text x="214.6" y="201.7" font-size="13" text-anchor="start" font-weight="bold" fill="#000" >f</text>
<line x1="254.2" y1="196.8" x2="254.2" y2="297.6" stroke="#0a0a0a" stroke-width="1.4" />
<line x1="253.6" y1="295.2" x2="467" y2="295.2" stroke="#0a0a0a" stroke-width="1.4" />
<line x1="251.6" y1="295.0" x2="254.5" y2="295.0" stroke="#0a0a0a" stroke-width="1.4" />
<text x="249.9" y="297.7" font-size="9.2" text-anchor="end" font-weight="normal" fill="#231f20" >0</text>
<line x1="251.6" y1="275.48" x2="254.5" y2="275.48" stroke="#0a0a0a" stroke-width="1.4" />
<text x="249.9" y="278.18" font-size="9.2" text-anchor="end" font-weight="normal" fill="#231f20" >20</text>
<line x1="251.6" y1="255.96" x2="254.5" y2="255.96" stroke="#0a0a0a" stroke-width="1.4" />
<text x="249.9" y="258.66" font-size="9.2" text-anchor="end" font-weight="normal" fill="#231f20" >40</text>
<line x1="251.6" y1="236.44" x2="254.5" y2="236.44" stroke="#0a0a0a" stroke-width="1.4" />
<text x="249.9" y="239.14" font-size="9.2" text-anchor="end" font-weight="normal" fill="#231f20" >60</text>
<line x1="251.6" y1="216.92000000000002" x2="254.5" y2="216.92000000000002" stroke="#0a0a0a" stroke-width="1.4" />
<text x="249.9" y="219.62" font-size="9.2" text-anchor="end" font-weight="normal" fill="#231f20" >80</text>
<line x1="251.6" y1="197.4" x2="254.5" y2="197.4" stroke="#0a0a0a" stroke-width="1.4" />
<text x="249.9" y="200.1" font-size="9.2" text-anchor="end" font-weight="normal" fill="#231f20" >100</text>
<line x1="254.50000000000003" y1="295" x2="254.50000000000003" y2="298" stroke="#0a0a0a" stroke-width="1.4" />
<text x="254.50000000000003" y="306.9" font-size="9.2" text-anchor="middle" font-weight="normal" fill="#231f20" >-20</text>
<line x1="296.77500000000003" y1="295" x2="296.77500000000003" y2="298" stroke="#0a0a0a" stroke-width="1.4" />
<text x="296.77500000000003" y="306.9" font-size="9.2" text-anchor="middle" font-weight="normal" fill="#231f20" >-15</text>
<line x1="339.05" y1="295" x2="339.05" y2="298" stroke="#0a0a0a" stroke-width="1.4" />
<text x="339.05" y="306.9" font-size="9.2" text-anchor="middle" font-weight="normal" fill="#231f20" >-10</text>
<line x1="381.32500000000005" y1="295" x2="381.32500000000005" y2="298" stroke="#0a0a0a" stroke-width="1.4" />
<text x="381.32500000000005" y="306.9" font-size="9.2" text-anchor="middle" font-weight="normal" fill="#231f20" >-5</text>
<line x1="423.6" y1="295" x2="423.6" y2="298" stroke="#0a0a0a" stroke-width="1.4" />
<text x="423.6" y="306.9" font-size="9.2" text-anchor="middle" font-weight="normal" fill="#231f20" >0</text>
<line x1="465.875" y1="295" x2="465.875" y2="298" stroke="#0a0a0a" stroke-width="1.4" />
<text x="465.875" y="306.9" font-size="9.2" text-anchor="middle" font-weight="normal" fill="#231f20" >5</text>
<text x="359.3" y="321.2" font-size="9.3" text-anchor="middle" font-weight="normal" fill="#231f20" >Whole molecule net charge</text>
<text x="0" y="0" font-size="9.3" text-anchor="middle" font-weight="normal" fill="#231f20" transform="translate(228.8,247.7) rotate(-90)">Percent solubility</text>
<path d="M268.00,196.03 L269.00,196.56 L270.00,197.08 L271.00,197.61 L272.00,198.14 L273.00,198.67 L274.00,199.20 L275.00,199.72 L276.00,200.25 L277.00,200.78 L278.00,201.31 L279.00,201.84 L280.00,202.36 L281.00,202.89 L282.00,203.42 L283.00,203.95 L284.00,204.48 L285.00,205.00 L286.00,205.53 L287.00,206.06 L288.00,206.59 L289.00,207.12 L290.00,207.64 L291.00,208.17 L292.00,208.70 L293.00,209.23 L294.00,209.76 L295.00,210.28 L296.00,210.81 L297.00,211.34 L298.00,211.87 L299.00,212.40 L300.00,212.92 L301.00,213.45 L302.00,213.98 L303.00,214.51 L304.00,215.04 L305.00,215.56 L306.00,216.09 L307.00,216.62 L308.00,217.15 L309.00,217.68 L310.00,218.20 L311.00,218.73 L312.00,219.26 L313.00,219.79 L314.00,220.32 L315.00,220.84 L316.00,221.37 L317.00,221.90 L318.00,222.43 L319.00,222.96 L320.00,223.48 L321.00,224.01 L322.00,224.54 L323.00,225.07 L324.00,225.60 L325.00,226.12 L326.00,226.65 L327.00,227.18 L328.00,227.71 L329.00,228.24 L330.00,228.76 L331.00,229.29 L332.00,229.82 L333.00,230.35 L334.00,230.88 L335.00,231.40 L336.00,231.93 L337.00,232.46 L338.00,232.99 L339.00,233.52 L340.00,234.04 L341.00,234.57 L342.00,235.10 L343.00,235.63 L344.00,236.16 L345.00,236.68 L346.00,237.21 L347.00,237.74 L348.00,238.27 L349.00,238.80 L350.00,239.32 L351.00,239.85 L352.00,240.38 L353.00,240.91 L354.00,241.44 L355.00,241.96 L356.00,242.49 L357.00,243.02 L358.00,243.55 L359.00,244.08 L360.00,244.60 L361.00,245.13 L362.00,245.66 L363.00,246.19 L364.00,246.72 L365.00,247.24 L366.00,247.77 L367.00,248.30 L368.00,248.83 L369.00,249.36 L370.00,249.88 L371.00,250.41 L372.00,250.94 L373.00,251.47 L374.00,252.00 L375.00,252.52 L376.00,253.05 L377.00,253.58 L378.00,254.11 L379.00,254.64 L380.00,255.16 L381.00,255.69 L382.00,256.22 L383.00,256.75 L384.00,257.28 L385.00,257.80 L386.00,258.33 L387.00,258.86 L388.00,259.39 L389.00,259.92 L390.00,260.44 L391.00,260.97 L392.00,261.50 L393.00,262.03 L394.00,262.56 L395.00,263.08 L396.00,263.61 L397.00,264.14 L398.00,264.67 L399.00,265.20 L400.00,265.72 L401.00,266.20 L402.00,266.67 L403.00,267.14 L404.00,267.62 L405.00,268.09 L406.00,268.56 L407.00,269.04 L408.00,269.51 L409.00,269.98 L410.00,270.45 L411.00,270.93 L412.00,271.40 L413.00,271.87 L414.00,272.35 L415.00,272.82 L416.00,273.29 L417.00,273.76 L418.00,274.24 L419.00,274.71 L420.00,275.18 L421.00,275.66 L422.00,276.13 L423.00,276.60 L424.00,277.08 L425.00,277.55 L426.00,278.02 L427.00,278.50 L428.00,278.97 L429.00,279.44 L430.00,279.91 L431.00,280.39 L432.00,280.86 L433.00,281.33 L434.00,281.81 L435.00,282.28 L436.00,282.75 L437.00,283.22 L438.00,283.70 L439.00,284.17 L440.00,284.64 L441.00,285.12 L442.00,285.59 L443.00,286.06 L444.00,286.54 L445.00,287.01 L446.00,287.48 L447.00,287.96 L448.00,288.43 L449.00,288.90 L450.00,289.37 L451.00,289.85 L452.00,290.32 L453.00,290.79 L454.00,291.27 L455.00,291.74 L456.00,292.21 L457.00,292.69 L458.00,293.16 L459.00,293.63 L460.00,294.10 L461.00,294.58 L462.00,295.05" fill="none" stroke="#9a4cb8" stroke-width="1.2" stroke-dasharray="1.2 3.6"/>
<path d="M259.00,205.48 L260.00,206.00 L261.00,206.51 L262.00,207.03 L263.00,207.55 L264.00,208.07 L265.00,208.59 L266.00,209.11 L267.00,209.63 L268.00,210.15 L269.00,210.67 L270.00,211.19 L271.00,211.71 L272.00,212.23 L273.00,212.76 L274.00,213.28 L275.00,213.80 L276.00,214.32 L277.00,214.84 L278.00,215.37 L279.00,215.89 L280.00,216.41 L281.00,216.94 L282.00,217.46 L283.00,217.98 L284.00,218.51 L285.00,219.03 L286.00,219.56 L287.00,220.08 L288.00,220.61 L289.00,221.13 L290.00,221.66 L291.00,222.18 L292.00,222.71 L293.00,223.23 L294.00,223.76 L295.00,224.29 L296.00,224.81 L297.00,225.34 L298.00,225.87 L299.00,226.40 L300.00,226.92 L301.00,227.45 L302.00,227.98 L303.00,228.51 L304.00,229.04 L305.00,229.57 L306.00,230.10 L307.00,230.63 L308.00,231.16 L309.00,231.69 L310.00,232.22 L311.00,232.75 L312.00,233.28 L313.00,233.81 L314.00,234.34 L315.00,234.87 L316.00,235.40 L317.00,235.93 L318.00,236.47 L319.00,237.00 L320.00,237.53 L321.00,238.06 L322.00,238.60 L323.00,239.13 L324.00,239.67 L325.00,240.20 L326.00,240.73 L327.00,241.27 L328.00,241.80 L329.00,242.34 L330.00,242.87 L331.00,243.41 L332.00,243.94 L333.00,244.48 L334.00,245.01 L335.00,245.55 L336.00,246.09 L337.00,246.62 L338.00,247.16 L339.00,247.70 L340.00,248.24 L341.00,248.77 L342.00,249.31 L343.00,249.85 L344.00,250.39 L345.00,250.93 L346.00,251.47 L347.00,252.01 L348.00,252.54 L349.00,253.08 L350.00,253.62 L351.00,254.16 L352.00,254.70 L353.00,255.25 L354.00,255.79 L355.00,256.33 L356.00,256.87 L357.00,257.41 L358.00,257.95 L359.00,258.49 L360.00,259.04 L361.00,259.58 L362.00,260.12 L363.00,260.66 L364.00,261.21 L365.00,261.75 L366.00,262.29 L367.00,262.84 L368.00,263.38 L369.00,263.93 L370.00,264.47 L371.00,265.02 L372.00,265.56 L373.00,266.11 L374.00,266.65 L375.00,267.20 L376.00,267.75 L377.00,268.29 L378.00,268.84 L379.00,269.38 L380.00,269.93 L381.00,270.48 L382.00,271.03 L383.00,271.57 L384.00,272.12 L385.00,272.67 L386.00,273.22 L387.00,273.77 L388.00,274.32 L389.00,274.87 L390.00,275.42 L391.00,275.97 L392.00,276.52 L393.00,277.07 L394.00,277.62 L395.00,278.17 L396.00,278.72 L397.00,279.27 L398.00,279.82 L399.00,280.37 L400.00,280.92 L401.00,281.48 L402.00,282.03 L403.00,282.58 L404.00,283.13 L405.00,283.69 L406.00,284.24 L407.00,284.79 L408.00,285.35 L409.00,285.90 L410.00,286.46 L411.00,287.01 L412.00,287.57 L413.00,288.12 L414.00,288.68 L415.00,289.23 L416.00,289.79" fill="none" stroke="#9a4cb8" stroke-width="1.2" stroke-dasharray="1.2 3.6"/>
<circle cx="262.96" cy="202.5" r="2.0" fill="#e3612a"/>
<circle cx="262.96" cy="204.3" r="2.0" fill="#e3612a"/>
<circle cx="262.96" cy="216" r="2.0" fill="#e3612a"/>
<circle cx="262.96" cy="219.6" r="2.0" fill="#e3612a"/>
<circle cx="279.87" cy="200.3" r="2.0" fill="#e3612a"/>
<circle cx="279.87" cy="203.1" r="2.0" fill="#e3612a"/>
<circle cx="288.32" cy="212.8" r="2.0" fill="#e3612a"/>
<circle cx="288.32" cy="219.4" r="2.0" fill="#e3612a"/>
<circle cx="296.78" cy="207.9" r="2.0" fill="#e3612a"/>
<circle cx="296.78" cy="222.7" r="2.0" fill="#e3612a"/>
<circle cx="313.69" cy="205.3" r="2.0" fill="#e3612a"/>
<circle cx="313.69" cy="211.8" r="2.0" fill="#e3612a"/>
<circle cx="313.69" cy="213.4" r="2.0" fill="#e3612a"/>
<circle cx="313.69" cy="222.1" r="2.0" fill="#e3612a"/>
<circle cx="313.69" cy="224.1" r="2.0" fill="#e3612a"/>
<circle cx="313.69" cy="230.7" r="2.0" fill="#e3612a"/>
<circle cx="322.14" cy="203.3" r="2.0" fill="#e3612a"/>
<circle cx="322.14" cy="232.3" r="2.0" fill="#e3612a"/>
<circle cx="322.14" cy="237.2" r="2.0" fill="#e3612a"/>
<circle cx="322.14" cy="246" r="2.0" fill="#e3612a"/>
<circle cx="339.05" cy="215.2" r="2.0" fill="#e3612a"/>
<circle cx="339.05" cy="234" r="2.0" fill="#e3612a"/>
<circle cx="339.05" cy="246.3" r="2.0" fill="#e3612a"/>
<circle cx="339.05" cy="249.2" r="2.0" fill="#e3612a"/>
<circle cx="339.05" cy="272.3" r="2.0" fill="#e3612a"/>
<circle cx="347.50" cy="219.8" r="2.0" fill="#e3612a"/>
<circle cx="347.50" cy="236" r="2.0" fill="#e3612a"/>
<circle cx="347.50" cy="242" r="2.0" fill="#e3612a"/>
<circle cx="347.50" cy="255.1" r="2.0" fill="#e3612a"/>
<circle cx="347.50" cy="259.4" r="2.0" fill="#e3612a"/>
<circle cx="355.96" cy="244.4" r="2.0" fill="#e3612a"/>
<circle cx="355.96" cy="246.7" r="2.0" fill="#e3612a"/>
<circle cx="355.96" cy="251.6" r="2.0" fill="#e3612a"/>
<circle cx="355.96" cy="259" r="2.0" fill="#e3612a"/>
<circle cx="355.96" cy="273.9" r="2.0" fill="#e3612a"/>
<circle cx="372.87" cy="254" r="2.0" fill="#e3612a"/>
<circle cx="381.33" cy="275.3" r="2.0" fill="#e3612a"/>
<circle cx="381.33" cy="277" r="2.0" fill="#e3612a"/>
<circle cx="389.78" cy="263.8" r="2.0" fill="#e3612a"/>
<circle cx="415.15" cy="292" r="2.0" fill="#e3612a"/>
<circle cx="423.60" cy="291.5" r="2.0" fill="#e3612a"/>
<circle cx="448.97" cy="286.6" r="2.0" fill="#e3612a"/>
<line x1="254.5" y1="197.4" x2="438.6" y2="294.6" stroke="#7a2196" stroke-width="3.2" />
<text x="360.9" y="228.4" font-size="9.6" text-anchor="start" font-weight="bold" fill="#7a2196" >R<tspan font-size="6" dy="-3.6">2</tspan><tspan dy="3.6"> = 0.75</tspan></text>
<text x="439.2" y="273.2" font-size="6.6" text-anchor="middle" font-weight="normal" fill="#8e46ad" >95% confidence</text>
<text x="439.2" y="278.7" font-size="6.6" text-anchor="middle" font-weight="normal" fill="#8e46ad" >interval</text>
<text x="276.7" y="229.7" font-size="6.8" text-anchor="middle" font-weight="bold" fill="#e3612a" >High</text>
<text x="276.7" y="238.6" font-size="6.8" text-anchor="middle" font-weight="bold" fill="#e3612a" >Solubility</text>
<text x="364" y="284.5" font-size="6.8" text-anchor="middle" font-weight="bold" fill="#e3612a" >Low</text>
<text x="364" y="292.6" font-size="6.8" text-anchor="middle" font-weight="bold" fill="#e3612a" >Solubility</text>
<path d="M277,266 L277,252" stroke="#000" stroke-width="1.4" fill="none"/>
<path d="M277,242.3 L271.3,254.5 L277,252.5 L282.7,254.5 Z" fill="#000"/>
<path d="M277,277 L277,282.5 Q277,288.5 283,288.5 L346,288.5" stroke="#000" stroke-width="1.4" fill="none"/>
<rect x="258.2" y="265" width="38.5" height="12.8" rx="6.4" fill="#fff" stroke="#000" stroke-width="1.3"/>
<text x="277.5" y="270.6" font-size="6.4" text-anchor="middle" font-weight="bold" fill="#000" >Decrease</text>
<text x="277.5" y="276.3" font-size="6.4" text-anchor="middle" font-weight="bold" fill="#000" >net charge</text>
<text x="492.2" y="212.4" font-size="13" text-anchor="start" font-weight="bold" fill="#000" >g</text>
<line x1="517.6" y1="201.6" x2="519.2" y2="201.6" stroke="#0a0a0a" stroke-width="0.8" />
<text x="517.2" y="204.9" font-size="9.5" text-anchor="end" font-weight="normal" fill="#231f20" >0</text>
<line x1="517.6" y1="213.35999999999999" x2="519.2" y2="213.35999999999999" stroke="#0a0a0a" stroke-width="0.8" />
<text x="517.2" y="216.66" font-size="9.5" text-anchor="end" font-weight="normal" fill="#231f20" >10</text>
<line x1="517.6" y1="225.12" x2="519.2" y2="225.12" stroke="#0a0a0a" stroke-width="0.8" />
<text x="517.2" y="228.42000000000002" font-size="9.5" text-anchor="end" font-weight="normal" fill="#231f20" >20</text>
<line x1="517.6" y1="236.88" x2="519.2" y2="236.88" stroke="#0a0a0a" stroke-width="0.8" />
<text x="517.2" y="240.18" font-size="9.5" text-anchor="end" font-weight="normal" fill="#231f20" >30</text>
<line x1="517.6" y1="248.64" x2="519.2" y2="248.64" stroke="#0a0a0a" stroke-width="0.8" />
<text x="517.2" y="251.94" font-size="9.5" text-anchor="end" font-weight="normal" fill="#231f20" >40</text>
<line x1="517.6" y1="260.4" x2="519.2" y2="260.4" stroke="#0a0a0a" stroke-width="0.8" />
<text x="517.2" y="263.7" font-size="9.5" text-anchor="end" font-weight="normal" fill="#231f20" >50</text>
<line x1="517.6" y1="272.15999999999997" x2="519.2" y2="272.15999999999997" stroke="#0a0a0a" stroke-width="0.8" />
<text x="517.2" y="275.46" font-size="9.5" text-anchor="end" font-weight="normal" fill="#231f20" >60</text>
<line x1="517.6" y1="283.91999999999996" x2="519.2" y2="283.91999999999996" stroke="#0a0a0a" stroke-width="0.8" />
<text x="517.2" y="287.21999999999997" font-size="9.5" text-anchor="end" font-weight="normal" fill="#231f20" >70</text>
<line x1="517.6" y1="295.68" x2="519.2" y2="295.68" stroke="#0a0a0a" stroke-width="0.8" />
<text x="517.2" y="298.98" font-size="9.5" text-anchor="end" font-weight="normal" fill="#231f20" >80</text>
<line x1="517.6" y1="307.44" x2="519.2" y2="307.44" stroke="#0a0a0a" stroke-width="0.8" />
<text x="517.2" y="310.74" font-size="9.5" text-anchor="end" font-weight="normal" fill="#231f20" >90</text>
<line x1="517.6" y1="319.2" x2="519.2" y2="319.2" stroke="#0a0a0a" stroke-width="0.8" />
<text x="517.2" y="322.5" font-size="9.5" text-anchor="end" font-weight="normal" fill="#231f20" >100</text>
<text x="0" y="0" font-size="9.3" text-anchor="middle" font-weight="normal" fill="#231f20" transform="translate(496.8,262.7) rotate(-90)">Percent solubility</text>
<defs><linearGradient id="hot" x1="0" y1="0" x2="0" y2="1">
<stop offset="0" stop-color="#000"/><stop offset="0.37" stop-color="#ff0000"/>
<stop offset="0.75" stop-color="#ffff00"/><stop offset="1" stop-color="#ffffff"/></linearGradient></defs>
<rect x="519" y="201.6" width="8.8" height="117.6" fill="url(#hot)" stroke="#222" stroke-width="0.8"/>
<rect x="531" y="201.6" width="29.90" height="4.30" fill="#000" shape-rendering="crispEdges"/>
<rect x="531" y="205.6" width="29.90" height="5.70" fill="#000" shape-rendering="crispEdges"/>
<rect x="531" y="211" width="29.90" height="10.00" fill="#000" shape-rendering="crispEdges"/>
<rect x="531" y="220.7" width="29.90" height="13.00" fill="#000" shape-rendering="crispEdges"/>
<rect x="531" y="233.4" width="29.90" height="17.50" fill="#000" shape-rendering="crispEdges"/>
<rect x="531" y="250.6" width="29.90" height="16.50" fill="#030000" shape-rendering="crispEdges"/>
<rect x="531" y="266.8" width="29.90" height="15.00" fill="#1c0000" shape-rendering="crispEdges"/>
<rect x="531" y="281.5" width="29.90" height="12.40" fill="#2c0000" shape-rendering="crispEdges"/>
<rect x="531" y="293.6" width="29.90" height="8.70" fill="#480000" shape-rendering="crispEdges"/>
<rect x="531" y="302" width="29.90" height="5.70" fill="#5e0000" shape-rendering="crispEdges"/>
<rect x="531" y="307.4" width="29.90" height="5.70" fill="#7c0000" shape-rendering="crispEdges"/>
<rect x="531" y="312.8" width="29.90" height="6.70" fill="#a00000" shape-rendering="crispEdges"/>
<rect x="560.6" y="201.6" width="29.90" height="4.30" fill="#000" shape-rendering="crispEdges"/>
<rect x="560.6" y="205.6" width="29.90" height="5.70" fill="#000" shape-rendering="crispEdges"/>
<rect x="560.6" y="211" width="29.90" height="10.00" fill="#000" shape-rendering="crispEdges"/>
<rect x="560.6" y="220.7" width="29.90" height="13.00" fill="#000" shape-rendering="crispEdges"/>
<rect x="560.6" y="233.4" width="29.90" height="17.50" fill="#200000" shape-rendering="crispEdges"/>
<rect x="560.6" y="250.6" width="29.90" height="16.50" fill="#2e0000" shape-rendering="crispEdges"/>
<rect x="560.6" y="266.8" width="29.90" height="15.00" fill="#4a0000" shape-rendering="crispEdges"/>
<rect x="560.6" y="281.5" width="29.90" height="12.40" fill="#5e0000" shape-rendering="crispEdges"/>
<rect x="560.6" y="293.6" width="29.90" height="8.70" fill="#800000" shape-rendering="crispEdges"/>
<rect x="560.6" y="302" width="29.90" height="5.70" fill="#a40000" shape-rendering="crispEdges"/>
<rect x="560.6" y="307.4" width="29.90" height="5.70" fill="#cc0a00" shape-rendering="crispEdges"/>
<rect x="560.6" y="312.8" width="29.90" height="6.70" fill="#ee1c00" shape-rendering="crispEdges"/>
<rect x="590.2" y="201.6" width="29.80" height="4.30" fill="#700000" shape-rendering="crispEdges"/>
<rect x="590.2" y="205.6" width="29.80" height="5.70" fill="#a00000" shape-rendering="crispEdges"/>
<rect x="590.2" y="211" width="29.80" height="10.00" fill="#c00000" shape-rendering="crispEdges"/>
<rect x="590.2" y="220.7" width="29.80" height="13.00" fill="#e00800" shape-rendering="crispEdges"/>
<rect x="590.2" y="233.4" width="29.80" height="17.50" fill="#ff1000" shape-rendering="crispEdges"/>
<rect x="590.2" y="250.6" width="29.80" height="16.50" fill="#ff2800" shape-rendering="crispEdges"/>
<rect x="590.2" y="266.8" width="29.80" height="15.00" fill="#ff3c00" shape-rendering="crispEdges"/>
<rect x="590.2" y="281.5" width="29.80" height="12.40" fill="#ff5000" shape-rendering="crispEdges"/>
<rect x="590.2" y="293.6" width="29.80" height="8.70" fill="#ff7000" shape-rendering="crispEdges"/>
<rect x="590.2" y="302" width="29.80" height="5.70" fill="#ff9000" shape-rendering="crispEdges"/>
<rect x="590.2" y="307.4" width="29.80" height="5.70" fill="#ffb000" shape-rendering="crispEdges"/>
<rect x="590.2" y="312.8" width="29.80" height="6.70" fill="#ffd800" shape-rendering="crispEdges"/>
<rect x="619.7" y="201.6" width="29.10" height="4.30" fill="#ff1000" shape-rendering="crispEdges"/>
<rect x="619.7" y="205.6" width="29.10" height="5.70" fill="#ff2000" shape-rendering="crispEdges"/>
<rect x="619.7" y="211" width="29.10" height="10.00" fill="#ff4000" shape-rendering="crispEdges"/>
<rect x="619.7" y="220.7" width="29.10" height="13.00" fill="#ff6000" shape-rendering="crispEdges"/>
<rect x="619.7" y="233.4" width="29.10" height="17.50" fill="#ff8800" shape-rendering="crispEdges"/>
<rect x="619.7" y="250.6" width="29.10" height="16.50" fill="#ff9800" shape-rendering="crispEdges"/>
<rect x="619.7" y="266.8" width="29.10" height="15.00" fill="#ffb800" shape-rendering="crispEdges"/>
<rect x="619.7" y="281.5" width="29.10" height="12.40" fill="#ffc800" shape-rendering="crispEdges"/>
<rect x="619.7" y="293.6" width="29.10" height="8.70" fill="#ffee00" shape-rendering="crispEdges"/>
<rect x="619.7" y="302" width="29.10" height="5.70" fill="#ffff20" shape-rendering="crispEdges"/>
<rect x="619.7" y="307.4" width="29.10" height="5.70" fill="#ffff80" shape-rendering="crispEdges"/>
<rect x="619.7" y="312.8" width="29.10" height="6.70" fill="#ffffd0" shape-rendering="crispEdges"/>
<line x1="531" y1="320.4" x2="649" y2="320.4" stroke="#111" stroke-width="1.4" />
<text x="534.5" y="212.6" font-size="6.6" text-anchor="start" font-weight="bold" fill="#fff" >100% insoluble</text>
<text x="647.2" y="205.1" font-size="7.2" text-anchor="end" font-weight="normal" fill="#1a1a1a" >&lt;40</text>
<text x="647.2" y="210.9" font-size="7.2" text-anchor="end" font-weight="normal" fill="#1a1a1a" >41</text>
<text x="647.2" y="219.3" font-size="7.2" text-anchor="end" font-weight="normal" fill="#1a1a1a" >45</text>
<text x="647.2" y="230.0" font-size="7.2" text-anchor="end" font-weight="normal" fill="#1a1a1a" >50</text>
<text x="647.2" y="244.5" font-size="7.2" text-anchor="end" font-weight="normal" fill="#1a1a1a" >55</text>
<text x="647.2" y="261.3" font-size="7.2" text-anchor="end" font-weight="normal" fill="#1a1a1a" >59</text>
<text x="647.2" y="276.6" font-size="7.2" text-anchor="end" font-weight="normal" fill="#1a1a1a" >64</text>
<text x="647.2" y="290.0" font-size="7.2" text-anchor="end" font-weight="normal" fill="#1a1a1a" >69</text>
<text x="647.2" y="299.9" font-size="7.2" text-anchor="end" font-weight="normal" fill="#1a1a1a" >73</text>
<text x="647.2" y="307.2" font-size="7.2" text-anchor="end" font-weight="normal" fill="#1a1a1a" >78</text>
<text x="647.2" y="315.5" font-size="7.2" text-anchor="end" font-weight="normal" fill="#1a1a1a" >&gt;80</text>
<text x="647.2" y="317.7" font-size="7.2" text-anchor="end" font-weight="normal" fill="#1a1a1a" >80</text>
<text x="545" y="328.7" font-size="6.8" text-anchor="middle" font-weight="normal" fill="#3a3a3a" >Variable</text>
<text x="545" y="336.55" font-size="6.8" text-anchor="middle" font-weight="normal" fill="#3a3a3a" >domains</text>
<text x="545" y="344.4" font-size="6.8" text-anchor="middle" font-weight="normal" fill="#3a3a3a" >+(G<tspan font-size="4.5" dy="1.5">4</tspan><tspan dy="-1.5">S)</tspan></text>
<text x="545" y="352.25" font-size="6.8" text-anchor="middle" font-weight="normal" fill="#3a3a3a" >linker</text>
<text x="575" y="328.7" font-size="6.8" text-anchor="middle" font-weight="normal" fill="#3a3a3a" >+(G<tspan font-size="4.5" dy="1.5">4</tspan><tspan dy="-1.5">S)</tspan><tspan font-size="4.5" dy="1.5">2</tspan><tspan dy="-1.5">,</tspan></text>
<text x="575" y="336.55" font-size="6.8" text-anchor="middle" font-weight="normal" fill="#3a3a3a" >HA</text>
<text x="604.4" y="328.7" font-size="6.8" text-anchor="middle" font-weight="normal" fill="#3a3a3a" >+(G<tspan font-size="4.5" dy="1.5">4</tspan><tspan dy="-1.5">S)</tspan><tspan font-size="4.5" dy="1.5">3</tspan><tspan dy="-1.5">,</tspan></text>
<text x="604.4" y="336.55" font-size="6.8" text-anchor="middle" font-weight="normal" fill="#3a3a3a" >HA,</text>
<text x="604.4" y="344.4" font-size="6.8" text-anchor="middle" font-weight="normal" fill="#3a3a3a" >3×FLAG</text>
<text x="634.5" y="328.7" font-size="6.8" text-anchor="middle" font-weight="normal" fill="#3a3a3a" >+(G<tspan font-size="4.5" dy="1.5">4</tspan><tspan dy="-1.5">D)</tspan><tspan font-size="4.5" dy="1.5">4</tspan><tspan dy="-1.5">,</tspan></text>
<text x="634.5" y="336.55" font-size="6.8" text-anchor="middle" font-weight="normal" fill="#3a3a3a" >HA,</text>
<text x="634.5" y="344.4" font-size="6.8" text-anchor="middle" font-weight="normal" fill="#3a3a3a" >3×FLAG</text>
<defs>
<linearGradient id="fun" gradientUnits="userSpaceOnUse" x1="122" y1="0" x2="200" y2="0">
<stop offset="0" stop-color="#e6287a"/><stop offset="0.55" stop-color="#f0583c"/><stop offset="1" stop-color="#f57c00"/></linearGradient>
<linearGradient id="arr" gradientUnits="userSpaceOnUse" x1="154" y1="0" x2="172" y2="0">
<stop offset="0" stop-color="#e6287a"/><stop offset="1" stop-color="#f57c00"/></linearGradient>
<filter id="soft" x="-5%" y="-5%" width="110%" height="110%"><feGaussianBlur stdDeviation="0.35"/></filter>
<filter id="bump" x="-10%" y="-10%" width="120%" height="120%" color-interpolation-filters="sRGB">
<feTurbulence type="fractalNoise" baseFrequency="0.22" numOctaves="3" seed="5" result="n"/>
<feDisplacementMap in="SourceGraphic" in2="n" scale="4" xChannelSelector="R" yChannelSelector="G" result="d"/>
<feGaussianBlur in="n" stdDeviation="0.5" result="nb"/>
<feDiffuseLighting in="nb" surfaceScale="4" diffuseConstant="1.05" lighting-color="#fff" result="l"><feDistantLight azimuth="225" elevation="48"/></feDiffuseLighting>
<feComposite in="l" in2="d" operator="arithmetic" k1="0.75" k2="0" k3="0.38" k4="0" result="m"/>
<feComposite in="m" in2="d" operator="in"/>
</filter>
</defs>
<path d="M121.00,39.90 C124.17,37.43 133.50,34.70 140.00,33.00 C146.50,31.30 153.33,30.33 160.00,29.70 C166.67,29.07 172.77,28.85 180.00,29.20 C187.23,29.55 196.40,30.50 203.40,31.80 C210.40,33.10 216.57,35.40 222.00,37.00 C227.43,38.60 232.10,41.30 236.00,41.40 C239.90,41.50 241.40,38.62 245.40,37.60 C249.40,36.58 255.90,35.77 260.00,35.30 C264.10,34.83 265.43,34.55 270.00,34.80 C274.57,35.05 281.92,35.32 287.40,36.80 C292.88,38.28 298.50,40.48 302.90,43.70 C307.30,46.92 311.17,51.43 313.80,56.10 C316.43,60.77 318.13,65.47 318.70,71.70 C319.27,77.93 318.53,87.28 317.20,93.50 C315.87,99.72 313.60,104.58 310.70,109.00 C307.80,113.42 304.22,117.10 299.80,120.00 C295.38,122.90 289.83,125.13 284.20,126.40 C278.57,127.67 271.70,127.23 266.00,127.60 C260.30,127.97 254.67,128.63 250.00,128.60 C245.33,128.57 241.40,128.08 238.00,127.40 C234.60,126.72 232.10,126.23 229.60,124.50 C227.10,122.77 224.68,120.25 223.00,117.00 C221.32,113.75 220.58,109.00 219.50,105.00 C218.42,101.00 217.75,97.08 216.50,93.00 C215.25,88.92 213.83,84.17 212.00,80.50 C210.17,76.83 208.00,73.45 205.50,71.00 C203.00,68.55 200.37,67.53 197.00,65.80 C193.63,64.07 189.47,62.40 185.30,60.60 C181.13,58.80 176.22,56.43 172.00,55.00 C167.78,53.57 165.33,53.00 160.00,52.00 C154.67,51.00 146.50,49.70 140.00,49.00 C133.50,48.30 124.17,49.32 121.00,47.80 C117.83,46.28 117.83,42.37 121.00,39.90Z" fill="url(#fun)"/>
<rect x="85" y="26.8" width="37.2" height="54" rx="8" fill="#e6287a"/>
<defs><radialGradient id="gT" cx="0.4" cy="0.36" r="0.64"><stop offset="0" stop-color="#c8f3ef"/><stop offset="0.55" stop-color="#98ddd7"/><stop offset="0.85" stop-color="#98ddd7"/><stop offset="1" stop-color="#4a8a86"/></radialGradient></defs>
<defs><radialGradient id="gDT" cx="0.4" cy="0.36" r="0.64"><stop offset="0" stop-color="#78b0ad"/><stop offset="0.55" stop-color="#437f80"/><stop offset="0.85" stop-color="#437f80"/><stop offset="1" stop-color="#22494b"/></radialGradient></defs>
<defs><radialGradient id="gB" cx="0.4" cy="0.36" r="0.64"><stop offset="0" stop-color="#82c0f4"/><stop offset="0.55" stop-color="#4898e2"/><stop offset="0.85" stop-color="#4898e2"/><stop offset="1" stop-color="#1b5698"/></radialGradient></defs>
<defs><radialGradient id="gP" cx="0.4" cy="0.36" r="0.64"><stop offset="0" stop-color="#cdb3f3"/><stop offset="0.55" stop-color="#a67ddc"/><stop offset="0.85" stop-color="#a67ddc"/><stop offset="1" stop-color="#62408c"/></radialGradient></defs>
<defs><radialGradient id="gB2" cx="0.4" cy="0.36" r="0.64"><stop offset="0" stop-color="#62c3fb"/><stop offset="0.55" stop-color="#1f9ce9"/><stop offset="0.85" stop-color="#1f9ce9"/><stop offset="1" stop-color="#085896"/></radialGradient></defs>
<defs><radialGradient id="gP2" cx="0.4" cy="0.36" r="0.64"><stop offset="0" stop-color="#c6a9ef"/><stop offset="0.55" stop-color="#9e72d5"/><stop offset="0.85" stop-color="#9e72d5"/><stop offset="1" stop-color="#5b378a"/></radialGradient></defs>
<path d="M0.50,51.00 C-0.78,52.08 1.82,51.32 2.30,52.50 C2.78,53.68 2.93,56.03 3.40,58.10 C3.87,60.17 4.35,63.10 5.10,64.90 C5.85,66.70 6.87,67.95 7.90,68.90 C8.93,69.85 10.17,70.42 11.30,70.60 C12.43,70.78 13.93,70.57 14.70,70.00 C15.47,69.43 15.13,68.15 15.90,67.20 C16.67,66.25 17.98,65.07 19.30,64.30 C20.62,63.53 22.48,62.82 23.80,62.60 C25.12,62.38 26.33,62.60 27.20,63.00 C28.07,63.40 28.25,64.30 29.00,65.00 C29.75,65.70 30.50,66.65 31.70,67.20 C32.90,67.75 34.50,68.30 36.20,68.30 C37.90,68.30 40.38,67.77 41.90,67.20 C43.42,66.63 43.98,66.03 45.30,64.90 C46.62,63.77 48.48,61.72 49.80,60.40 C51.12,59.08 52.25,57.90 53.20,57.00 C54.15,56.10 55.30,56.13 55.50,55.00 C55.70,53.87 55.65,51.53 54.40,50.20 C53.15,48.87 52.07,47.53 48.00,47.00 C43.93,46.47 36.33,47.17 30.00,47.00 C23.67,46.83 14.92,45.33 10.00,46.00 C5.08,46.67 1.78,49.92 0.50,51.00Z" fill="#4a8a86"/>
<g fill="url(#gT)" filter="url(#soft)"><circle cx="9.9" cy="61.4" r="4.1"/><circle cx="7.8" cy="57.7" r="3.2"/><circle cx="27.3" cy="55.4" r="2.8"/><circle cx="6.9" cy="47.2" r="1.5"/><circle cx="7.4" cy="54.9" r="4.5"/><circle cx="17.7" cy="46.5" r="2.9"/><circle cx="39.2" cy="65.0" r="2.7"/><circle cx="7.4" cy="67.8" r="1.5"/><circle cx="11.3" cy="46.3" r="2.5"/><circle cx="49.2" cy="53.2" r="3.9"/><circle cx="3.3" cy="55.7" r="1.9"/><circle cx="47.9" cy="61.3" r="2.0"/><circle cx="22.1" cy="47.5" r="3.5"/><circle cx="10.7" cy="68.0" r="2.4"/><circle cx="23.7" cy="61.0" r="2.7"/><circle cx="45.9" cy="53.0" r="4.4"/><circle cx="41.7" cy="51.7" r="3.3"/><circle cx="16.7" cy="54.7" r="2.6"/><circle cx="14.6" cy="46.8" r="2.1"/><circle cx="28.7" cy="58.8" r="2.2"/><circle cx="32.3" cy="64.3" r="3.9"/><circle cx="13.1" cy="61.5" r="3.3"/><circle cx="25.2" cy="56.3" r="4.6"/><circle cx="38.0" cy="54.6" r="2.3"/><circle cx="22.1" cy="58.2" r="2.2"/><circle cx="51.5" cy="55.2" r="3.6"/><circle cx="18.6" cy="58.7" r="2.9"/><circle cx="38.9" cy="50.0" r="3.4"/><circle cx="35.0" cy="64.8" r="3.8"/><circle cx="40.9" cy="58.9" r="2.7"/><circle cx="4.7" cy="58.4" r="2.4"/><circle cx="55.2" cy="51.8" r="1.6"/><circle cx="4.1" cy="53.2" r="2.5"/><circle cx="17.6" cy="52.9" r="2.4"/><circle cx="15.2" cy="51.7" r="3.1"/><circle cx="27.4" cy="62.2" r="1.9"/><circle cx="44.3" cy="54.8" r="2.6"/><circle cx="17.7" cy="62.0" r="3.9"/><circle cx="14.3" cy="64.3" r="2.3"/><circle cx="11.1" cy="57.9" r="2.4"/><circle cx="8.0" cy="53.2" r="2.8"/><circle cx="14.0" cy="67.8" r="2.7"/><circle cx="34.3" cy="58.6" r="2.4"/><circle cx="24.6" cy="50.4" r="3.9"/><circle cx="34.5" cy="51.7" r="3.0"/><circle cx="34.2" cy="50.3" r="2.9"/><circle cx="4.5" cy="50.1" r="3.0"/><circle cx="31.4" cy="58.3" r="3.4"/><circle cx="52.2" cy="50.0" r="2.6"/><circle cx="41.5" cy="49.9" r="3.6"/><circle cx="27.8" cy="49.1" r="3.0"/><circle cx="31.1" cy="60.7" r="3.1"/><circle cx="41.6" cy="61.7" r="2.5"/><circle cx="36.4" cy="66.5" r="3.0"/><circle cx="11.3" cy="50.0" r="3.3"/><circle cx="37.9" cy="58.2" r="4.4"/><circle cx="44.5" cy="49.1" r="3.4"/><circle cx="15.0" cy="58.2" r="3.4"/><circle cx="27.8" cy="52.0" r="3.9"/><circle cx="38.8" cy="53.0" r="2.5"/><circle cx="17.7" cy="50.2" r="3.0"/><circle cx="10.9" cy="53.2" r="3.2"/><circle cx="34.8" cy="60.8" r="3.2"/><circle cx="20.2" cy="55.8" r="3.4"/><circle cx="14.3" cy="49.6" r="4.4"/><circle cx="31.3" cy="55.7" r="4.1"/><circle cx="13.3" cy="55.6" r="2.5"/><circle cx="24.1" cy="52.1" r="4.2"/><circle cx="34.9" cy="55.1" r="3.2"/><circle cx="41.2" cy="54.8" r="3.9"/><circle cx="42.3" cy="64.2" r="3.6"/><circle cx="31.6" cy="49.0" r="3.7"/><circle cx="8.3" cy="50.4" r="2.6"/><circle cx="52.1" cy="52.1" r="3.8"/><circle cx="51.2" cy="57.7" r="2.0"/><circle cx="43.8" cy="61.0" r="3.8"/><circle cx="20.9" cy="61.1" r="2.8"/><circle cx="25.0" cy="57.8" r="2.9"/><circle cx="31.6" cy="51.7" r="4.6"/><circle cx="34.6" cy="47.3" r="1.6"/><circle cx="10.3" cy="55.7" r="3.2"/><circle cx="14.4" cy="69.7" r="1.6"/><circle cx="8.0" cy="64.8" r="3.2"/><circle cx="45.2" cy="58.3" r="3.3"/><circle cx="49.0" cy="49.8" r="2.4"/><circle cx="7.2" cy="61.8" r="3.4"/><circle cx="36.5" cy="60.7" r="4.3"/><circle cx="47.7" cy="55.0" r="3.4"/><circle cx="22.4" cy="51.7" r="4.0"/><circle cx="12.4" cy="64.9" r="3.6"/><circle cx="48.9" cy="58.3" r="2.5"/><circle cx="21.7" cy="50.3" r="3.3"/></g>
<path d="M14.00,56.50 C15.00,55.75 17.83,55.83 20.00,55.50 C22.17,55.17 25.67,53.92 27.00,54.50 C28.33,55.08 28.50,57.75 28.00,59.00 C27.50,60.25 25.83,61.50 24.00,62.00 C22.17,62.50 18.67,62.33 17.00,62.00 C15.33,61.67 14.50,60.92 14.00,60.00 C13.50,59.08 13.00,57.25 14.00,56.50Z" fill="#22494b"/>
<g fill="url(#gDT)" filter="url(#soft)"><circle cx="17.2" cy="61.7" r="1.4"/><circle cx="19.3" cy="62.3" r="1.9"/><circle cx="20.0" cy="59.6" r="1.7"/><circle cx="16.1" cy="60.0" r="1.6"/><circle cx="17.0" cy="58.8" r="2.3"/><circle cx="17.4" cy="57.6" r="1.6"/><circle cx="27.3" cy="57.1" r="2.1"/><circle cx="22.5" cy="59.1" r="1.8"/><circle cx="19.9" cy="57.4" r="1.7"/><circle cx="23.9" cy="56.1" r="1.9"/><circle cx="24.1" cy="61.6" r="1.5"/><circle cx="24.6" cy="57.9" r="2.1"/><circle cx="27.4" cy="55.1" r="1.5"/><circle cx="25.0" cy="59.5" r="2.2"/><circle cx="20.9" cy="57.9" r="1.9"/><circle cx="14.8" cy="57.9" r="1.9"/><circle cx="21.2" cy="61.8" r="1.7"/></g>
<path d="M38.50,54.00 C39.08,53.08 42.48,53.17 44.00,53.50 C45.52,53.83 47.27,55.03 47.60,56.00 C47.93,56.97 47.18,58.80 46.00,59.30 C44.82,59.80 41.75,59.88 40.50,59.00 C39.25,58.12 37.92,54.92 38.50,54.00Z" fill="#22494b"/>
<g fill="url(#gDT)" filter="url(#soft)"><circle cx="40.1" cy="54.4" r="2.2"/><circle cx="44.1" cy="54.5" r="1.6"/><circle cx="47.7" cy="56.6" r="1.4"/><circle cx="45.6" cy="58.1" r="1.8"/><circle cx="40.6" cy="58.9" r="1.3"/><circle cx="39.8" cy="56.8" r="2.0"/><circle cx="43.9" cy="58.4" r="1.8"/><circle cx="41.4" cy="55.8" r="1.6"/><circle cx="45.3" cy="56.7" r="2.1"/><circle cx="41.6" cy="53.6" r="1.6"/></g>
<path d="M52.50,62.00 C52.75,60.42 53.45,59.75 54.50,59.50 C55.55,59.25 57.80,59.75 58.80,60.50 C59.80,61.25 60.38,62.58 60.50,64.00 C60.62,65.42 60.17,67.75 59.50,69.00 C58.83,70.25 57.58,71.50 56.50,71.50 C55.42,71.50 53.67,70.58 53.00,69.00 C52.33,67.42 52.25,63.58 52.50,62.00Z" fill="#22494b"/>
<g fill="url(#gDT)" filter="url(#soft)"><circle cx="58.9" cy="62.8" r="2.1"/><circle cx="58.4" cy="64.6" r="1.9"/><circle cx="56.1" cy="68.8" r="1.5"/><circle cx="53.7" cy="61.8" r="1.6"/><circle cx="59.1" cy="60.8" r="1.5"/><circle cx="54.4" cy="70.0" r="1.8"/><circle cx="55.4" cy="59.5" r="1.3"/><circle cx="57.9" cy="68.5" r="1.7"/><circle cx="55.3" cy="61.7" r="2.1"/><circle cx="59.9" cy="64.2" r="1.6"/><circle cx="58.4" cy="66.4" r="2.1"/><circle cx="53.3" cy="64.5" r="2.0"/><circle cx="56.0" cy="66.3" r="1.7"/><circle cx="56.2" cy="70.1" r="1.6"/><circle cx="56.6" cy="64.9" r="1.6"/><circle cx="54.3" cy="68.1" r="1.6"/></g>
<path d="M38.60,71.50 C40.12,70.67 43.37,69.72 45.30,69.50 C47.23,69.28 48.92,70.20 50.20,70.20 C51.48,70.20 51.97,69.37 53.00,69.50 C54.03,69.63 55.92,70.02 56.40,71.00 C56.88,71.98 55.33,73.70 55.90,75.40 C56.47,77.10 58.35,79.27 59.80,81.20 C61.25,83.13 63.32,84.92 64.60,87.00 C65.88,89.08 66.43,91.62 67.50,93.70 C68.57,95.78 70.05,97.88 71.00,99.50 C71.95,101.12 72.95,101.63 73.20,103.40 C73.45,105.17 73.23,108.33 72.50,110.10 C71.77,111.87 70.18,112.88 68.80,114.00 C67.42,115.12 65.58,115.63 64.20,116.80 C62.82,117.97 62.03,120.00 60.50,121.00 C58.97,122.00 56.83,122.80 55.00,122.80 C53.17,122.80 51.08,122.15 49.50,121.00 C47.92,119.85 47.08,117.55 45.50,115.90 C43.92,114.25 41.55,112.72 40.00,111.10 C38.45,109.48 37.28,108.30 36.20,106.20 C35.12,104.10 34.10,101.38 33.50,98.50 C32.90,95.62 32.43,91.78 32.60,88.90 C32.77,86.02 33.90,83.60 34.50,81.20 C35.10,78.80 35.52,76.12 36.20,74.50 C36.88,72.88 37.08,72.33 38.60,71.50Z" fill="#1b5698"/>
<g fill="url(#gB)" filter="url(#soft)"><circle cx="48.6" cy="117.8" r="2.5"/><circle cx="69.3" cy="99.3" r="2.5"/><circle cx="43.7" cy="82.7" r="4.5"/><circle cx="53.9" cy="93.9" r="2.5"/><circle cx="48.2" cy="112.0" r="4.0"/><circle cx="54.6" cy="105.0" r="2.6"/><circle cx="52.6" cy="91.8" r="4.2"/><circle cx="64.4" cy="96.8" r="3.6"/><circle cx="44.0" cy="73.3" r="3.8"/><circle cx="57.7" cy="121.4" r="2.0"/><circle cx="59.6" cy="81.4" r="1.4"/><circle cx="55.7" cy="99.1" r="2.8"/><circle cx="50.5" cy="106.3" r="2.3"/><circle cx="54.2" cy="97.1" r="2.3"/><circle cx="57.3" cy="88.3" r="2.3"/><circle cx="48.3" cy="99.9" r="3.4"/><circle cx="60.3" cy="106.6" r="3.8"/><circle cx="65.0" cy="105.1" r="3.7"/><circle cx="42.8" cy="97.4" r="2.9"/><circle cx="36.2" cy="79.9" r="2.5"/><circle cx="47.0" cy="88.5" r="3.7"/><circle cx="47.6" cy="78.5" r="2.3"/><circle cx="70.8" cy="103.3" r="3.4"/><circle cx="42.1" cy="90.3" r="4.2"/><circle cx="47.0" cy="96.6" r="2.9"/><circle cx="66.2" cy="100.2" r="2.3"/><circle cx="47.0" cy="106.4" r="3.4"/><circle cx="53.0" cy="79.3" r="4.2"/><circle cx="59.9" cy="85.6" r="3.0"/><circle cx="50.4" cy="115.4" r="2.3"/><circle cx="40.0" cy="103.0" r="2.3"/><circle cx="54.9" cy="110.9" r="3.2"/><circle cx="63.4" cy="85.7" r="1.3"/><circle cx="48.8" cy="77.0" r="2.7"/><circle cx="46.3" cy="113.9" r="3.3"/><circle cx="37.9" cy="90.8" r="2.9"/><circle cx="51.4" cy="99.2" r="3.6"/><circle cx="64.4" cy="103.5" r="3.5"/><circle cx="35.6" cy="90.5" r="4.2"/><circle cx="50.8" cy="73.9" r="2.9"/><circle cx="44.5" cy="108.5" r="2.4"/><circle cx="60.3" cy="108.1" r="2.6"/><circle cx="53.4" cy="88.3" r="2.7"/><circle cx="57.8" cy="108.6" r="3.3"/><circle cx="67.2" cy="108.3" r="2.9"/><circle cx="64.2" cy="108.5" r="4.3"/><circle cx="64.8" cy="114.1" r="3.1"/><circle cx="61.6" cy="94.5" r="2.2"/><circle cx="66.0" cy="111.1" r="2.8"/><circle cx="67.2" cy="114.7" r="1.6"/><circle cx="46.1" cy="75.3" r="2.3"/><circle cx="62.1" cy="111.3" r="4.0"/><circle cx="40.6" cy="73.9" r="2.9"/><circle cx="46.2" cy="82.1" r="4.0"/><circle cx="38.7" cy="99.1" r="4.2"/><circle cx="42.1" cy="112.0" r="2.0"/><circle cx="58.4" cy="102.6" r="2.3"/><circle cx="37.1" cy="93.4" r="2.9"/><circle cx="41.7" cy="76.7" r="3.1"/><circle cx="40.1" cy="81.7" r="3.3"/><circle cx="50.4" cy="96.8" r="3.1"/><circle cx="57.9" cy="93.8" r="2.9"/><circle cx="40.4" cy="87.4" r="4.1"/><circle cx="58.7" cy="116.9" r="4.1"/><circle cx="56.2" cy="117.1" r="2.5"/><circle cx="69.3" cy="112.5" r="2.0"/><circle cx="63.1" cy="87.7" r="2.6"/><circle cx="46.0" cy="111.0" r="3.8"/><circle cx="53.3" cy="108.7" r="4.3"/><circle cx="60.2" cy="113.8" r="2.3"/><circle cx="36.5" cy="88.4" r="3.9"/><circle cx="46.6" cy="108.2" r="2.3"/><circle cx="56.6" cy="84.8" r="3.7"/><circle cx="49.6" cy="81.7" r="3.2"/><circle cx="57.3" cy="82.3" r="3.4"/><circle cx="40.9" cy="105.0" r="3.8"/><circle cx="45.4" cy="90.1" r="3.7"/><circle cx="59.7" cy="111.4" r="2.9"/><circle cx="48.3" cy="93.9" r="3.2"/><circle cx="38.6" cy="85.0" r="4.0"/><circle cx="61.1" cy="120.1" r="1.5"/><circle cx="56.4" cy="114.2" r="3.2"/><circle cx="36.6" cy="103.0" r="3.0"/><circle cx="52.4" cy="81.9" r="4.6"/><circle cx="61.4" cy="102.2" r="3.7"/><circle cx="55.7" cy="91.5" r="3.7"/><circle cx="54.1" cy="120.4" r="3.4"/><circle cx="55.9" cy="75.9" r="1.6"/><circle cx="45.6" cy="71.1" r="2.7"/><circle cx="37.6" cy="105.2" r="2.9"/><circle cx="50.5" cy="94.8" r="3.4"/><circle cx="44.8" cy="94.1" r="2.8"/><circle cx="40.4" cy="97.1" r="4.0"/><circle cx="70.6" cy="108.3" r="2.8"/><circle cx="61.0" cy="100.2" r="4.5"/><circle cx="53.1" cy="72.6" r="2.5"/><circle cx="66.2" cy="90.7" r="1.5"/><circle cx="51.5" cy="108.7" r="4.0"/><circle cx="67.6" cy="105.3" r="3.0"/><circle cx="67.7" cy="97.1" r="2.7"/><circle cx="53.3" cy="113.8" r="3.2"/><circle cx="36.1" cy="84.8" r="3.8"/><circle cx="37.8" cy="108.6" r="1.4"/><circle cx="43.5" cy="88.3" r="3.2"/><circle cx="50.6" cy="87.2" r="2.6"/><circle cx="39.6" cy="78.8" r="2.6"/><circle cx="59.0" cy="90.3" r="3.6"/><circle cx="43.3" cy="105.1" r="3.6"/><circle cx="62.8" cy="91.8" r="4.5"/><circle cx="68.0" cy="102.4" r="3.5"/><circle cx="34.1" cy="94.6" r="2.7"/><circle cx="51.0" cy="79.2" r="3.2"/><circle cx="43.3" cy="102.6" r="2.4"/><circle cx="45.4" cy="100.6" r="2.5"/><circle cx="35.3" cy="82.0" r="2.2"/><circle cx="35.3" cy="99.3" r="2.9"/><circle cx="36.4" cy="97.1" r="3.3"/><circle cx="52.6" cy="85.6" r="3.8"/><circle cx="51.3" cy="120.8" r="2.2"/><circle cx="53.9" cy="103.0" r="3.4"/><circle cx="51.4" cy="111.1" r="2.3"/><circle cx="58.4" cy="106.1" r="2.7"/><circle cx="41.8" cy="99.7" r="2.9"/><circle cx="61.2" cy="97.0" r="2.2"/><circle cx="56.8" cy="79.0" r="2.2"/><circle cx="52.4" cy="69.8" r="1.4"/><circle cx="60.3" cy="87.5" r="2.3"/><circle cx="59.1" cy="100.4" r="3.8"/><circle cx="48.3" cy="91.1" r="3.0"/><circle cx="51.5" cy="102.1" r="3.2"/><circle cx="46.1" cy="85.2" r="2.2"/><circle cx="71.4" cy="105.5" r="3.1"/><circle cx="41.5" cy="93.7" r="4.5"/><circle cx="46.0" cy="74.0" r="3.9"/><circle cx="64.5" cy="93.5" r="3.8"/><circle cx="40.7" cy="108.9" r="3.2"/><circle cx="46.6" cy="102.9" r="4.0"/><circle cx="49.3" cy="84.6" r="3.8"/><circle cx="53.2" cy="77.0" r="4.2"/><circle cx="42.8" cy="84.7" r="4.5"/><circle cx="63.0" cy="117.3" r="1.7"/><circle cx="55.9" cy="72.9" r="1.3"/><circle cx="53.0" cy="117.2" r="3.3"/><circle cx="42.5" cy="78.5" r="3.9"/><circle cx="38.3" cy="76.6" r="3.8"/><circle cx="56.7" cy="96.8" r="4.4"/></g>
<path d="M53.00,86.00 C54.00,85.08 57.25,84.08 59.00,84.50 C60.75,84.92 62.67,86.92 63.50,88.50 C64.33,90.08 64.58,92.67 64.00,94.00 C63.42,95.33 61.50,96.42 60.00,96.50 C58.50,96.58 56.17,95.58 55.00,94.50 C53.83,93.42 53.33,91.42 53.00,90.00 C52.67,88.58 52.00,86.92 53.00,86.00Z" fill="#22494b"/>
<g fill="url(#gDT)" filter="url(#soft)"><circle cx="56.6" cy="93.0" r="2.3"/><circle cx="54.5" cy="93.0" r="1.7"/><circle cx="62.7" cy="87.9" r="1.8"/><circle cx="55.8" cy="85.2" r="1.5"/><circle cx="60.2" cy="89.7" r="1.9"/><circle cx="63.9" cy="90.1" r="1.4"/><circle cx="60.0" cy="92.7" r="2.2"/><circle cx="55.2" cy="92.0" r="2.4"/><circle cx="57.9" cy="86.7" r="2.0"/><circle cx="56.7" cy="85.5" r="2.0"/><circle cx="59.3" cy="91.6" r="1.7"/><circle cx="60.5" cy="86.9" r="2.2"/><circle cx="58.8" cy="95.5" r="2.0"/><circle cx="54.0" cy="89.9" r="2.0"/><circle cx="57.9" cy="90.2" r="2.1"/><circle cx="57.0" cy="95.0" r="2.0"/><circle cx="56.4" cy="91.2" r="2.1"/><circle cx="61.2" cy="93.3" r="2.3"/><circle cx="62.7" cy="91.5" r="1.7"/><circle cx="55.6" cy="87.1" r="2.0"/><circle cx="55.2" cy="88.8" r="2.1"/></g>
<path d="M46.50,113.50 C47.83,112.42 50.75,111.42 53.00,111.50 C55.25,111.58 58.67,112.67 60.00,114.00 C61.33,115.33 61.67,118.00 61.00,119.50 C60.33,121.00 58.08,122.58 56.00,123.00 C53.92,123.42 50.33,122.83 48.50,122.00 C46.67,121.17 45.33,119.42 45.00,118.00 C44.67,116.58 45.17,114.58 46.50,113.50Z" fill="#4a8a86"/>
<g fill="url(#gT)" filter="url(#soft)"><circle cx="56.4" cy="118.9" r="1.6"/><circle cx="55.3" cy="114.5" r="2.1"/><circle cx="52.5" cy="116.0" r="2.1"/><circle cx="58.0" cy="114.5" r="1.7"/><circle cx="51.7" cy="114.0" r="1.7"/><circle cx="59.2" cy="116.9" r="1.7"/><circle cx="54.6" cy="117.2" r="2.2"/><circle cx="49.6" cy="122.3" r="1.7"/><circle cx="49.4" cy="119.2" r="1.9"/><circle cx="56.1" cy="120.7" r="2.3"/><circle cx="54.0" cy="119.2" r="2.4"/><circle cx="46.5" cy="115.2" r="2.1"/><circle cx="47.2" cy="116.1" r="2.1"/><circle cx="56.6" cy="117.3" r="1.7"/><circle cx="49.7" cy="116.1" r="2.2"/><circle cx="52.8" cy="114.0" r="2.3"/><circle cx="52.6" cy="122.9" r="1.6"/><circle cx="46.9" cy="119.8" r="2.0"/><circle cx="54.1" cy="122.6" r="1.6"/><circle cx="46.1" cy="118.9" r="1.8"/><circle cx="59.2" cy="118.8" r="2.4"/><circle cx="52.0" cy="118.7" r="2.1"/><circle cx="48.5" cy="115.2" r="1.6"/><circle cx="59.2" cy="121.3" r="1.5"/><circle cx="53.6" cy="121.3" r="1.7"/><circle cx="51.9" cy="120.0" r="1.8"/><circle cx="48.4" cy="120.0" r="1.6"/></g>
<path d="M0.50,40.60 C0.93,38.65 1.63,39.23 3.10,38.80 C4.57,38.37 7.22,38.25 9.30,38.00 C11.38,37.75 13.52,37.42 15.60,37.30 C17.68,37.18 19.98,37.38 21.80,37.30 C23.62,37.22 24.93,36.93 26.50,36.80 C28.07,36.67 29.38,36.80 31.20,36.50 C33.02,36.20 35.60,35.18 37.40,35.00 C39.20,34.82 40.53,34.80 42.00,35.40 C43.47,36.00 44.98,37.43 46.20,38.60 C47.42,39.77 48.17,41.00 49.30,42.40 C50.43,43.80 52.15,45.70 53.00,47.00 C53.85,48.30 54.37,49.28 54.40,50.20 C54.43,51.12 54.15,52.32 53.20,52.50 C52.25,52.68 50.40,51.78 48.70,51.30 C47.00,50.82 44.88,49.88 43.00,49.60 C41.12,49.32 39.28,49.32 37.40,49.60 C35.52,49.88 33.40,50.63 31.70,51.30 C30.00,51.97 28.72,52.93 27.20,53.60 C25.68,54.27 24.30,54.83 22.60,55.30 C20.90,55.77 18.88,56.12 17.00,56.40 C15.12,56.68 13.00,57.28 11.30,57.00 C9.60,56.72 8.30,55.65 6.80,54.70 C5.30,53.75 3.35,52.00 2.30,51.30 C1.25,50.60 0.80,52.28 0.50,50.50 C0.20,48.72 0.07,42.55 0.50,40.60Z" fill="#62408c"/>
<g fill="url(#gP)" filter="url(#soft)"><circle cx="44.4" cy="39.4" r="2.6"/><circle cx="12.4" cy="41.2" r="2.4"/><circle cx="49.1" cy="47.8" r="4.1"/><circle cx="29.4" cy="42.0" r="3.0"/><circle cx="25.0" cy="41.0" r="3.1"/><circle cx="2.9" cy="43.9" r="3.3"/><circle cx="48.0" cy="45.2" r="3.4"/><circle cx="4.9" cy="41.5" r="2.8"/><circle cx="12.0" cy="53.3" r="2.6"/><circle cx="40.0" cy="38.5" r="3.1"/><circle cx="7.2" cy="38.6" r="1.7"/><circle cx="6.8" cy="44.9" r="3.3"/><circle cx="17.3" cy="38.0" r="1.8"/><circle cx="26.8" cy="44.9" r="2.7"/><circle cx="8.7" cy="41.5" r="3.2"/><circle cx="22.5" cy="50.9" r="3.6"/><circle cx="1.2" cy="42.1" r="2.2"/><circle cx="45.3" cy="49.9" r="1.9"/><circle cx="22.7" cy="45.4" r="4.0"/><circle cx="36.5" cy="37.8" r="3.0"/><circle cx="29.7" cy="44.6" r="4.0"/><circle cx="13.9" cy="38.3" r="1.9"/><circle cx="4.8" cy="51.1" r="2.9"/><circle cx="39.6" cy="48.0" r="2.6"/><circle cx="9.8" cy="54.2" r="2.5"/><circle cx="19.9" cy="55.8" r="1.3"/><circle cx="25.3" cy="46.8" r="4.2"/><circle cx="25.0" cy="50.1" r="3.1"/><circle cx="35.5" cy="47.3" r="3.8"/><circle cx="52.9" cy="51.1" r="2.5"/><circle cx="37.7" cy="45.0" r="4.4"/><circle cx="43.0" cy="41.0" r="4.5"/><circle cx="17.0" cy="44.9" r="3.7"/><circle cx="33.9" cy="43.7" r="3.7"/><circle cx="1.7" cy="50.8" r="1.4"/><circle cx="40.3" cy="42.1" r="4.6"/><circle cx="26.3" cy="38.0" r="2.3"/><circle cx="43.1" cy="47.7" r="3.0"/><circle cx="18.8" cy="50.2" r="4.2"/><circle cx="33.5" cy="40.7" r="4.2"/><circle cx="15.0" cy="47.4" r="3.4"/><circle cx="32.5" cy="50.2" r="1.9"/><circle cx="24.2" cy="39.3" r="3.3"/><circle cx="16.2" cy="52.6" r="4.3"/><circle cx="4.8" cy="47.1" r="3.7"/><circle cx="53.6" cy="48.3" r="1.5"/><circle cx="19.1" cy="44.3" r="3.2"/><circle cx="46.1" cy="40.9" r="2.7"/><circle cx="28.5" cy="47.1" r="4.1"/><circle cx="9.6" cy="56.2" r="1.7"/><circle cx="5.5" cy="53.5" r="1.4"/><circle cx="14.9" cy="40.9" r="3.5"/><circle cx="9.1" cy="47.9" r="4.4"/><circle cx="41.3" cy="44.1" r="2.9"/><circle cx="19.3" cy="53.6" r="3.2"/><circle cx="26.7" cy="53.8" r="1.6"/><circle cx="9.6" cy="44.3" r="2.7"/><circle cx="9.1" cy="49.7" r="3.7"/><circle cx="10.6" cy="38.8" r="2.1"/><circle cx="32.3" cy="47.1" r="4.3"/><circle cx="18.8" cy="42.2" r="3.4"/><circle cx="1.5" cy="48.3" r="2.3"/><circle cx="33.6" cy="39.0" r="2.7"/><circle cx="43.9" cy="45.4" r="3.1"/><circle cx="35.5" cy="42.3" r="2.3"/><circle cx="12.3" cy="50.8" r="3.0"/><circle cx="48.4" cy="49.7" r="2.7"/><circle cx="14.3" cy="51.2" r="4.3"/><circle cx="18.7" cy="48.1" r="2.8"/><circle cx="28.4" cy="50.5" r="2.5"/><circle cx="12.7" cy="44.5" r="2.5"/><circle cx="23.3" cy="53.6" r="2.5"/><circle cx="30.2" cy="37.9" r="2.4"/><circle cx="50.8" cy="45.4" r="1.9"/><circle cx="22.8" cy="42.5" r="2.4"/><circle cx="19.3" cy="39.0" r="2.9"/><circle cx="13.6" cy="56.8" r="1.6"/><circle cx="45.7" cy="48.0" r="3.3"/><circle cx="21.3" cy="47.9" r="2.9"/><circle cx="12.3" cy="48.1" r="3.7"/></g>
<path d="M55.50,63.00 C55.17,62.00 57.08,61.33 58.00,59.50 C58.92,57.67 59.67,53.58 61.00,52.00 C62.33,50.42 63.67,50.00 66.00,50.00 C68.33,50.00 71.63,51.23 75.00,52.00 C78.37,52.77 83.03,54.68 86.20,54.60 C89.37,54.52 91.40,51.63 94.00,51.50 C96.60,51.37 98.68,52.63 101.80,53.80 C104.92,54.97 110.20,57.55 112.70,58.50 C115.20,59.45 116.00,58.58 116.80,59.50 C117.60,60.42 118.00,62.53 117.50,64.00 C117.00,65.47 115.90,67.10 113.80,68.30 C111.70,69.50 107.95,70.48 104.90,71.20 C101.85,71.92 98.37,72.60 95.50,72.60 C92.63,72.60 90.03,72.18 87.70,71.20 C85.37,70.22 83.57,67.57 81.50,66.70 C79.43,65.83 77.63,66.20 75.30,66.00 C72.97,65.80 70.05,65.58 67.50,65.50 C64.95,65.42 62.00,65.92 60.00,65.50 C58.00,65.08 55.83,64.00 55.50,63.00Z" fill="#1b5698"/>
<g fill="url(#gB)" filter="url(#soft)"><circle cx="61.5" cy="60.1" r="4.1"/><circle cx="103.6" cy="56.9" r="3.3"/><circle cx="58.5" cy="63.0" r="3.2"/><circle cx="70.1" cy="56.0" r="4.1"/><circle cx="66.2" cy="59.7" r="2.4"/><circle cx="84.9" cy="68.2" r="1.9"/><circle cx="95.6" cy="71.2" r="2.5"/><circle cx="82.7" cy="65.8" r="2.6"/><circle cx="70.0" cy="64.9" r="2.0"/><circle cx="60.9" cy="62.1" r="3.7"/><circle cx="72.4" cy="57.2" r="4.1"/><circle cx="68.1" cy="51.0" r="1.9"/><circle cx="99.3" cy="62.2" r="2.8"/><circle cx="95.3" cy="59.9" r="3.5"/><circle cx="71.2" cy="51.2" r="2.3"/><circle cx="115.3" cy="62.2" r="2.9"/><circle cx="103.9" cy="66.0" r="2.7"/><circle cx="76.0" cy="65.3" r="2.1"/><circle cx="97.5" cy="54.6" r="2.8"/><circle cx="64.5" cy="61.8" r="3.1"/><circle cx="88.1" cy="68.8" r="3.6"/><circle cx="113.3" cy="62.8" r="2.7"/><circle cx="90.2" cy="60.4" r="3.5"/><circle cx="89.6" cy="57.3" r="2.8"/><circle cx="92.8" cy="57.6" r="2.6"/><circle cx="116.1" cy="66.0" r="1.4"/><circle cx="102.6" cy="71.6" r="1.3"/><circle cx="92.4" cy="66.0" r="3.8"/><circle cx="94.6" cy="68.5" r="4.3"/><circle cx="99.2" cy="69.3" r="4.0"/><circle cx="83.7" cy="54.6" r="1.4"/><circle cx="76.6" cy="54.0" r="2.4"/><circle cx="109.5" cy="68.3" r="2.8"/><circle cx="109.9" cy="59.4" r="3.1"/><circle cx="95.6" cy="62.7" r="3.1"/><circle cx="66.3" cy="56.4" r="2.4"/><circle cx="86.0" cy="62.1" r="2.7"/><circle cx="89.3" cy="65.0" r="3.5"/><circle cx="68.1" cy="59.7" r="2.6"/><circle cx="74.4" cy="63.4" r="3.6"/><circle cx="62.5" cy="53.9" r="3.5"/><circle cx="62.7" cy="56.6" r="2.7"/><circle cx="64.7" cy="51.5" r="2.4"/><circle cx="85.9" cy="60.5" r="2.3"/><circle cx="110.1" cy="65.5" r="4.3"/><circle cx="102.5" cy="62.1" r="3.3"/><circle cx="99.5" cy="55.9" r="2.7"/><circle cx="99.7" cy="65.8" r="4.0"/><circle cx="93.0" cy="72.3" r="1.6"/><circle cx="81.9" cy="59.6" r="4.5"/><circle cx="92.2" cy="67.7" r="3.8"/><circle cx="79.0" cy="59.8" r="3.1"/><circle cx="73.3" cy="54.5" r="3.2"/><circle cx="102.2" cy="60.0" r="3.3"/><circle cx="113.1" cy="66.2" r="3.3"/><circle cx="89.5" cy="71.7" r="1.3"/><circle cx="93.2" cy="62.4" r="4.0"/><circle cx="88.2" cy="61.9" r="4.5"/><circle cx="59.8" cy="55.8" r="1.6"/><circle cx="68.5" cy="62.7" r="2.3"/><circle cx="72.5" cy="58.9" r="4.1"/><circle cx="59.1" cy="59.5" r="2.2"/><circle cx="106.7" cy="65.3" r="2.2"/><circle cx="80.5" cy="56.6" r="2.8"/><circle cx="106.0" cy="68.1" r="3.0"/><circle cx="101.9" cy="67.9" r="3.3"/><circle cx="95.7" cy="65.8" r="3.0"/><circle cx="87.5" cy="56.5" r="3.4"/><circle cx="79.2" cy="65.1" r="2.4"/><circle cx="72.4" cy="62.3" r="4.1"/><circle cx="86.1" cy="65.0" r="3.2"/><circle cx="107.0" cy="56.1" r="1.6"/><circle cx="84.3" cy="56.5" r="3.1"/><circle cx="97.8" cy="57.6" r="3.7"/><circle cx="106.2" cy="59.9" r="2.3"/><circle cx="70.0" cy="52.9" r="2.4"/><circle cx="109.8" cy="61.8" r="2.8"/><circle cx="106.7" cy="61.8" r="2.4"/><circle cx="75.2" cy="58.8" r="2.6"/><circle cx="81.4" cy="62.4" r="2.8"/><circle cx="94.6" cy="54.7" r="2.5"/><circle cx="66.0" cy="52.9" r="2.4"/><circle cx="79.6" cy="63.5" r="3.9"/><circle cx="99.1" cy="60.1" r="3.9"/><circle cx="112.6" cy="60.3" r="2.9"/><circle cx="76.6" cy="57.1" r="2.8"/><circle cx="92.7" cy="59.7" r="4.4"/><circle cx="116.7" cy="60.4" r="1.7"/></g>
<path d="M61.70,58.50 C61.60,56.08 62.73,53.92 64.00,51.50 C65.27,49.08 67.38,46.00 69.30,44.00 C71.22,42.00 73.20,40.63 75.50,39.50 C77.80,38.37 80.80,38.08 83.10,37.20 C85.40,36.32 86.97,34.97 89.30,34.20 C91.63,33.43 94.27,32.47 97.10,32.60 C99.93,32.73 103.77,33.87 106.30,35.00 C108.83,36.13 110.80,37.43 112.30,39.40 C113.80,41.37 114.68,44.45 115.30,46.80 C115.92,49.15 116.25,51.63 116.00,53.50 C115.75,55.37 115.13,57.25 113.80,58.00 C112.47,58.75 110.00,58.75 108.00,58.00 C106.00,57.25 103.88,54.75 101.80,53.50 C99.72,52.25 97.85,51.25 95.50,50.50 C93.15,49.75 89.25,48.12 87.70,49.00 C86.15,49.88 87.23,53.77 86.20,55.80 C85.17,57.83 83.07,59.53 81.50,61.20 C79.93,62.87 78.62,64.63 76.80,65.80 C74.98,66.97 72.63,68.17 70.60,68.20 C68.57,68.23 66.08,67.62 64.60,66.00 C63.12,64.38 61.80,60.92 61.70,58.50Z" fill="#62408c"/>
<g fill="url(#gP)" filter="url(#soft)"><circle cx="103.5" cy="44.4" r="3.0"/><circle cx="109.3" cy="44.7" r="2.6"/><circle cx="89.2" cy="45.2" r="3.9"/><circle cx="82.0" cy="45.1" r="3.0"/><circle cx="104.4" cy="39.2" r="3.2"/><circle cx="83.3" cy="50.6" r="4.5"/><circle cx="86.4" cy="42.6" r="2.5"/><circle cx="93.4" cy="41.5" r="2.7"/><circle cx="65.8" cy="62.8" r="4.0"/><circle cx="100.3" cy="39.2" r="4.6"/><circle cx="68.3" cy="54.3" r="3.5"/><circle cx="97.8" cy="35.9" r="2.9"/><circle cx="106.9" cy="57.3" r="1.6"/><circle cx="67.3" cy="50.6" r="3.6"/><circle cx="95.1" cy="37.2" r="3.2"/><circle cx="76.1" cy="45.5" r="2.9"/><circle cx="70.6" cy="53.5" r="3.8"/><circle cx="97.7" cy="38.5" r="2.4"/><circle cx="78.8" cy="57.3" r="3.4"/><circle cx="101.6" cy="35.8" r="2.5"/><circle cx="69.3" cy="57.4" r="3.7"/><circle cx="83.9" cy="43.1" r="4.6"/><circle cx="89.9" cy="47.6" r="2.4"/><circle cx="69.4" cy="65.3" r="3.8"/><circle cx="91.7" cy="35.6" r="2.6"/><circle cx="72.6" cy="66.6" r="2.6"/><circle cx="104.7" cy="35.8" r="2.8"/><circle cx="80.8" cy="38.5" r="2.0"/><circle cx="78.3" cy="54.2" r="3.2"/><circle cx="96.6" cy="46.1" r="4.6"/><circle cx="87.6" cy="39.4" r="3.4"/><circle cx="73.5" cy="57.2" r="2.3"/><circle cx="76.5" cy="42.9" r="3.9"/><circle cx="99.9" cy="44.4" r="4.2"/><circle cx="107.5" cy="42.4" r="2.8"/><circle cx="75.2" cy="65.4" r="2.4"/><circle cx="105.9" cy="45.7" r="3.7"/><circle cx="93.1" cy="45.8" r="3.2"/><circle cx="94.1" cy="38.5" r="2.2"/><circle cx="110.4" cy="42.5" r="3.7"/><circle cx="110.1" cy="57.1" r="2.5"/><circle cx="111.9" cy="39.7" r="1.5"/><circle cx="75.3" cy="53.4" r="3.7"/><circle cx="112.3" cy="45.8" r="3.7"/><circle cx="94.5" cy="49.1" r="2.3"/><circle cx="84.0" cy="39.1" r="3.2"/><circle cx="104.9" cy="53.6" r="2.9"/><circle cx="65.3" cy="56.9" r="2.2"/><circle cx="90.4" cy="43.0" r="2.7"/><circle cx="69.7" cy="63.7" r="3.9"/><circle cx="87.6" cy="36.5" r="2.5"/><circle cx="97.6" cy="51.1" r="1.5"/><circle cx="65.4" cy="53.8" r="3.5"/><circle cx="79.4" cy="45.2" r="3.4"/><circle cx="71.5" cy="44.8" r="3.3"/><circle cx="95.4" cy="33.7" r="2.2"/><circle cx="112.5" cy="54.3" r="3.2"/><circle cx="72.9" cy="48.8" r="3.6"/><circle cx="77.1" cy="60.2" r="3.3"/><circle cx="67.6" cy="60.7" r="3.1"/><circle cx="76.0" cy="50.8" r="4.5"/><circle cx="65.9" cy="66.4" r="1.7"/><circle cx="113.8" cy="57.3" r="1.8"/><circle cx="104.2" cy="42.3" r="3.2"/><circle cx="80.7" cy="41.5" r="4.4"/><circle cx="61.8" cy="57.6" r="1.9"/><circle cx="114.6" cy="50.8" r="2.6"/><circle cx="66.1" cy="48.3" r="1.9"/><circle cx="73.1" cy="50.9" r="2.3"/><circle cx="76.0" cy="57.0" r="3.0"/><circle cx="81.2" cy="53.8" r="4.5"/><circle cx="82.0" cy="60.6" r="1.9"/><circle cx="109.5" cy="53.6" r="2.8"/><circle cx="81.1" cy="47.9" r="2.3"/><circle cx="107.6" cy="48.6" r="4.6"/><circle cx="75.2" cy="59.4" r="3.7"/><circle cx="115.8" cy="53.3" r="1.4"/><circle cx="110.3" cy="48.8" r="4.2"/><circle cx="101.1" cy="42.2" r="4.0"/><circle cx="73.2" cy="42.8" r="2.8"/><circle cx="100.5" cy="48.3" r="3.0"/><circle cx="107.8" cy="39.2" r="3.9"/><circle cx="104.1" cy="51.0" r="3.4"/><circle cx="86.3" cy="45.2" r="3.3"/><circle cx="63.8" cy="59.7" r="3.1"/><circle cx="70.1" cy="52.0" r="4.1"/><circle cx="108.1" cy="51.0" r="2.4"/><circle cx="84.5" cy="54.8" r="3.1"/><circle cx="103.4" cy="48.8" r="3.9"/><circle cx="98.0" cy="48.2" r="3.0"/><circle cx="98.9" cy="34.3" r="2.6"/><circle cx="76.9" cy="48.7" r="4.0"/><circle cx="96.5" cy="41.5" r="4.6"/><circle cx="71.4" cy="59.3" r="2.9"/><circle cx="84.0" cy="47.4" r="3.6"/><circle cx="90.2" cy="39.2" r="4.5"/><circle cx="87.7" cy="48.0" r="2.1"/><circle cx="75.9" cy="63.3" r="3.8"/><circle cx="114.0" cy="48.3" r="2.9"/><circle cx="111.6" cy="50.5" r="2.5"/><circle cx="113.5" cy="42.5" r="1.9"/><circle cx="101.2" cy="50.6" r="3.4"/><circle cx="83.4" cy="56.8" r="2.4"/><circle cx="79.3" cy="50.6" r="3.7"/><circle cx="91.3" cy="33.7" r="1.3"/><circle cx="77.3" cy="40.1" r="2.4"/><circle cx="86.1" cy="51.3" r="2.0"/><circle cx="70.9" cy="48.9" r="2.2"/><circle cx="71.9" cy="63.9" r="4.4"/><circle cx="108.8" cy="36.9" r="2.0"/></g>
<path d="M89,46 L91.5,50 L89.5,54 L91,57.5 L90.5,61.5" stroke="#e6287a" stroke-width="2.2" fill="none" stroke-linejoin="round"/>
<path d="M241.00,42.30 C241.28,40.77 243.72,39.05 245.20,39.30 C246.68,39.55 248.33,42.55 249.90,43.80 C251.47,45.05 252.58,46.22 254.60,46.80 C256.62,47.38 259.77,47.38 262.00,47.30 C264.23,47.22 265.87,46.60 268.00,46.30 C270.13,46.00 272.62,46.15 274.80,45.50 C276.98,44.85 278.53,42.65 281.10,42.40 C283.67,42.15 287.67,42.73 290.20,44.00 C292.73,45.27 294.00,47.20 296.30,50.00 C298.60,52.80 302.18,56.97 304.00,60.80 C305.82,64.63 305.90,69.40 307.20,73.00 C308.50,76.60 310.80,79.28 311.80,82.40 C312.80,85.52 313.17,88.77 313.20,91.70 C313.23,94.63 312.77,97.68 312.00,100.00 C311.23,102.32 310.00,104.00 308.60,105.60 C307.20,107.20 305.70,108.78 303.60,109.60 C301.50,110.42 298.60,110.83 296.00,110.50 C293.40,110.17 290.50,107.68 288.00,107.60 C285.50,107.52 283.17,109.43 281.00,110.00 C278.83,110.57 276.87,111.33 275.00,111.00 C273.13,110.67 271.05,109.83 269.80,108.00 C268.55,106.17 268.13,102.67 267.50,100.00 C266.87,97.33 266.83,95.33 266.00,92.00 C265.17,88.67 263.75,85.33 262.50,80.00 C261.25,74.67 260.50,64.75 258.50,60.00 C256.50,55.25 253.00,53.42 250.50,51.50 C248.00,49.58 245.08,50.03 243.50,48.50 C241.92,46.97 240.72,43.83 241.00,42.30Z" fill="#5b378a"/>
<g fill="url(#gP2)" filter="url(#soft)"><circle cx="271.8" cy="58.5" r="3.5"/><circle cx="301.2" cy="75.7" r="3.6"/><circle cx="290.3" cy="80.9" r="2.6"/><circle cx="271.8" cy="79.3" r="3.2"/><circle cx="265.9" cy="73.3" r="2.3"/><circle cx="266.4" cy="49.7" r="4.0"/><circle cx="290.6" cy="93.2" r="2.8"/><circle cx="278.9" cy="69.7" r="4.4"/><circle cx="296.9" cy="89.7" r="3.1"/><circle cx="267.2" cy="93.2" r="2.4"/><circle cx="261.9" cy="68.9" r="2.6"/><circle cx="276.4" cy="105.1" r="3.1"/><circle cx="262.3" cy="57.8" r="4.5"/><circle cx="288.5" cy="55.5" r="3.7"/><circle cx="282.8" cy="57.9" r="3.6"/><circle cx="282.0" cy="55.4" r="4.5"/><circle cx="269.9" cy="88.0" r="3.1"/><circle cx="280.1" cy="89.6" r="2.3"/><circle cx="248.6" cy="43.7" r="2.2"/><circle cx="258.2" cy="52.2" r="2.7"/><circle cx="302.7" cy="73.1" r="4.4"/><circle cx="293.4" cy="86.8" r="4.0"/><circle cx="303.4" cy="90.5" r="3.0"/><circle cx="283.0" cy="97.0" r="2.3"/><circle cx="271.5" cy="108.3" r="2.2"/><circle cx="279.5" cy="82.4" r="3.8"/><circle cx="303.3" cy="109.0" r="1.8"/><circle cx="260.1" cy="60.5" r="2.8"/><circle cx="290.9" cy="99.3" r="3.4"/><circle cx="273.7" cy="84.8" r="2.5"/><circle cx="301.4" cy="78.8" r="4.1"/><circle cx="288.7" cy="102.1" r="3.1"/><circle cx="298.8" cy="54.6" r="2.7"/><circle cx="311.5" cy="96.5" r="2.6"/><circle cx="298.0" cy="98.7" r="4.1"/><circle cx="251.2" cy="51.3" r="1.8"/><circle cx="264.4" cy="79.4" r="3.1"/><circle cx="266.0" cy="51.7" r="3.6"/><circle cx="284.8" cy="60.3" r="4.0"/><circle cx="276.1" cy="102.3" r="2.8"/><circle cx="301.0" cy="84.8" r="2.8"/><circle cx="286.0" cy="104.6" r="2.7"/><circle cx="294.6" cy="84.1" r="3.1"/><circle cx="301.7" cy="63.9" r="3.4"/><circle cx="263.6" cy="76.0" r="3.1"/><circle cx="296.0" cy="51.6" r="2.7"/><circle cx="293.2" cy="51.1" r="3.9"/><circle cx="277.8" cy="63.7" r="3.4"/><circle cx="265.9" cy="87.4" r="2.8"/><circle cx="279.8" cy="105.0" r="4.1"/><circle cx="303.9" cy="99.7" r="4.1"/><circle cx="273.4" cy="68.9" r="4.4"/><circle cx="278.8" cy="51.5" r="2.7"/><circle cx="293.2" cy="107.6" r="2.9"/><circle cx="269.1" cy="67.0" r="3.0"/><circle cx="286.5" cy="45.4" r="3.9"/><circle cx="303.4" cy="95.8" r="3.8"/><circle cx="289.8" cy="69.6" r="2.7"/><circle cx="260.2" cy="63.9" r="1.8"/><circle cx="270.2" cy="92.5" r="3.9"/><circle cx="308.8" cy="84.6" r="3.9"/><circle cx="305.9" cy="105.0" r="3.5"/><circle cx="310.0" cy="91.2" r="3.6"/><circle cx="252.8" cy="46.8" r="1.8"/><circle cx="305.8" cy="102.0" r="2.9"/><circle cx="263.5" cy="48.2" r="2.2"/><circle cx="274.7" cy="93.8" r="3.6"/><circle cx="281.2" cy="43.2" r="1.9"/><circle cx="283.2" cy="69.6" r="4.5"/><circle cx="278.6" cy="54.7" r="3.6"/><circle cx="276.7" cy="95.7" r="4.3"/><circle cx="292.1" cy="57.7" r="4.1"/><circle cx="294.5" cy="75.0" r="4.0"/><circle cx="268.4" cy="51.3" r="3.4"/><circle cx="272.5" cy="49.3" r="4.4"/><circle cx="302.5" cy="104.3" r="2.6"/><circle cx="289.5" cy="45.5" r="2.8"/><circle cx="278.9" cy="72.9" r="3.1"/><circle cx="300.2" cy="96.7" r="2.7"/><circle cx="298.1" cy="94.0" r="3.2"/><circle cx="301.7" cy="92.8" r="4.0"/><circle cx="273.8" cy="54.8" r="3.7"/><circle cx="298.8" cy="105.5" r="3.1"/><circle cx="295.7" cy="107.6" r="2.3"/><circle cx="299.8" cy="67.0" r="4.1"/><circle cx="267.3" cy="64.4" r="4.6"/><circle cx="278.9" cy="67.2" r="4.6"/><circle cx="281.5" cy="75.1" r="3.1"/><circle cx="286.0" cy="73.2" r="2.4"/><circle cx="270.6" cy="60.7" r="3.1"/><circle cx="307.2" cy="75.7" r="2.2"/><circle cx="244.2" cy="43.7" r="3.1"/><circle cx="272.8" cy="91.1" r="2.8"/><circle cx="277.8" cy="93.0" r="3.6"/><circle cx="290.5" cy="49.4" r="3.1"/><circle cx="272.7" cy="52.6" r="3.9"/><circle cx="299.5" cy="77.8" r="2.9"/><circle cx="284.9" cy="66.5" r="2.3"/><circle cx="267.5" cy="55.4" r="4.4"/><circle cx="276.9" cy="48.8" r="4.1"/><circle cx="310.3" cy="99.4" r="2.9"/><circle cx="304.2" cy="80.6" r="4.2"/><circle cx="300.0" cy="86.8" r="3.9"/><circle cx="290.6" cy="90.2" r="3.6"/><circle cx="307.7" cy="82.1" r="2.4"/><circle cx="304.9" cy="67.5" r="2.1"/><circle cx="281.4" cy="63.9" r="2.2"/><circle cx="291.1" cy="97.0" r="3.9"/><circle cx="272.3" cy="82.3" r="4.1"/><circle cx="266.2" cy="69.5" r="4.4"/><circle cx="297.9" cy="84.1" r="3.0"/><circle cx="278.8" cy="79.1" r="4.3"/><circle cx="263.1" cy="61.2" r="2.5"/><circle cx="295.5" cy="67.6" r="3.6"/><circle cx="277.1" cy="75.4" r="4.4"/><circle cx="269.6" cy="97.1" r="3.8"/><circle cx="301.6" cy="66.9" r="4.0"/><circle cx="289.0" cy="51.2" r="2.3"/><circle cx="269.8" cy="49.5" r="4.4"/><circle cx="299.5" cy="73.5" r="3.0"/><circle cx="286.3" cy="96.7" r="3.0"/><circle cx="307.4" cy="89.5" r="3.8"/><circle cx="304.7" cy="94.1" r="2.4"/><circle cx="309.7" cy="101.4" r="2.3"/><circle cx="282.0" cy="104.9" r="2.6"/><circle cx="285.2" cy="64.4" r="2.6"/><circle cx="285.2" cy="107.7" r="2.1"/><circle cx="277.2" cy="84.4" r="4.5"/><circle cx="310.1" cy="81.9" r="2.4"/><circle cx="307.9" cy="96.1" r="3.8"/><circle cx="312.2" cy="92.4" r="2.4"/><circle cx="283.0" cy="46.6" r="3.6"/><circle cx="268.1" cy="78.6" r="3.9"/><circle cx="292.7" cy="106.1" r="3.8"/><circle cx="304.9" cy="77.8" r="3.3"/><circle cx="274.0" cy="46.7" r="2.4"/><circle cx="303.7" cy="69.7" r="3.9"/><circle cx="296.8" cy="104.6" r="3.1"/><circle cx="270.0" cy="89.7" r="4.2"/><circle cx="285.7" cy="49.2" r="4.6"/><circle cx="272.1" cy="101.4" r="3.0"/><circle cx="282.8" cy="80.6" r="3.3"/><circle cx="276.7" cy="91.0" r="2.6"/><circle cx="282.8" cy="91.3" r="4.5"/><circle cx="307.9" cy="98.8" r="3.4"/><circle cx="302.3" cy="101.7" r="4.3"/><circle cx="257.5" cy="55.3" r="2.6"/><circle cx="270.4" cy="98.8" r="2.9"/><circle cx="280.2" cy="87.7" r="3.7"/><circle cx="274.8" cy="57.6" r="4.2"/><circle cx="291.9" cy="85.0" r="2.7"/><circle cx="274.6" cy="71.9" r="3.8"/><circle cx="305.9" cy="72.4" r="2.4"/><circle cx="291.1" cy="63.2" r="3.4"/><circle cx="267.2" cy="60.4" r="2.7"/><circle cx="287.1" cy="90.0" r="3.8"/><circle cx="294.2" cy="64.5" r="4.1"/><circle cx="273.8" cy="60.9" r="2.6"/><circle cx="281.1" cy="95.8" r="3.7"/><circle cx="267.8" cy="72.2" r="3.2"/><circle cx="296.3" cy="102.7" r="4.6"/><circle cx="293.2" cy="81.1" r="4.3"/><circle cx="267.0" cy="81.2" r="3.5"/><circle cx="285.4" cy="52.5" r="4.6"/><circle cx="294.4" cy="99.6" r="3.4"/><circle cx="282.1" cy="52.2" r="3.4"/><circle cx="274.9" cy="67.6" r="3.7"/><circle cx="284.6" cy="55.2" r="2.7"/><circle cx="290.6" cy="61.6" r="2.7"/><circle cx="284.6" cy="43.5" r="2.4"/><circle cx="280.3" cy="49.1" r="3.7"/><circle cx="272.7" cy="105.8" r="3.6"/><circle cx="272.8" cy="96.9" r="3.0"/><circle cx="269.2" cy="104.4" r="1.9"/><circle cx="288.8" cy="105.1" r="2.9"/><circle cx="292.8" cy="78.3" r="2.6"/><circle cx="259.2" cy="49.4" r="3.0"/><circle cx="266.9" cy="84.1" r="2.4"/><circle cx="270.5" cy="81.5" r="2.7"/><circle cx="282.2" cy="87.1" r="3.0"/><circle cx="273.9" cy="76.1" r="2.9"/><circle cx="269.6" cy="101.7" r="2.6"/><circle cx="284.0" cy="84.8" r="2.8"/><circle cx="272.0" cy="66.8" r="3.5"/><circle cx="300.0" cy="99.4" r="2.8"/><circle cx="243.4" cy="40.9" r="2.1"/><circle cx="295.4" cy="73.2" r="3.1"/><circle cx="264.2" cy="57.3" r="3.5"/><circle cx="295.8" cy="55.7" r="3.5"/><circle cx="297.4" cy="87.5" r="3.0"/><circle cx="284.8" cy="57.9" r="3.4"/><circle cx="258.5" cy="58.5" r="2.6"/><circle cx="289.9" cy="87.9" r="4.2"/><circle cx="270.4" cy="55.7" r="3.9"/><circle cx="275.5" cy="78.8" r="4.2"/><circle cx="276.3" cy="51.5" r="2.6"/><circle cx="243.1" cy="45.7" r="2.7"/><circle cx="296.3" cy="70.0" r="3.3"/><circle cx="308.5" cy="92.7" r="3.5"/><circle cx="272.2" cy="71.9" r="3.5"/><circle cx="288.1" cy="61.5" r="3.0"/><circle cx="295.6" cy="57.8" r="3.9"/><circle cx="282.2" cy="72.1" r="3.0"/><circle cx="296.9" cy="81.8" r="4.6"/><circle cx="261.8" cy="52.5" r="4.4"/><circle cx="304.3" cy="87.5" r="3.9"/><circle cx="286.4" cy="102.8" r="4.1"/><circle cx="293.6" cy="94.1" r="4.5"/><circle cx="261.5" cy="65.8" r="3.1"/><circle cx="275.8" cy="69.6" r="4.5"/><circle cx="286.7" cy="69.9" r="2.5"/><circle cx="249.2" cy="48.3" r="2.3"/><circle cx="298.1" cy="57.9" r="3.2"/><circle cx="246.5" cy="49.3" r="1.7"/><circle cx="291.7" cy="67.4" r="3.5"/><circle cx="282.5" cy="78.8" r="3.5"/><circle cx="288.2" cy="66.5" r="2.4"/><circle cx="266.5" cy="76.0" r="3.6"/><circle cx="288.3" cy="77.9" r="4.0"/><circle cx="280.9" cy="45.5" r="3.9"/><circle cx="294.7" cy="78.4" r="2.9"/><circle cx="256.6" cy="48.1" r="2.1"/><circle cx="276.1" cy="87.8" r="4.6"/><circle cx="291.9" cy="54.4" r="4.4"/><circle cx="270.2" cy="84.4" r="3.9"/><circle cx="298.5" cy="75.2" r="2.3"/><circle cx="249.0" cy="46.2" r="3.1"/><circle cx="288.2" cy="64.2" r="3.2"/><circle cx="272.0" cy="63.0" r="2.3"/><circle cx="279.4" cy="101.5" r="4.2"/><circle cx="265.2" cy="66.9" r="2.8"/><circle cx="277.7" cy="98.4" r="3.3"/><circle cx="309.0" cy="79.3" r="2.3"/><circle cx="299.0" cy="102.1" r="4.0"/><circle cx="284.2" cy="93.2" r="2.3"/><circle cx="286.5" cy="82.0" r="3.9"/><circle cx="267.1" cy="91.3" r="2.4"/><circle cx="288.9" cy="57.0" r="4.5"/><circle cx="275.2" cy="108.0" r="3.5"/><circle cx="287.4" cy="75.0" r="3.6"/><circle cx="298.8" cy="64.4" r="3.7"/><circle cx="287.9" cy="93.4" r="2.8"/><circle cx="297.3" cy="61.2" r="2.8"/><circle cx="275.5" cy="63.7" r="4.0"/><circle cx="270.3" cy="46.8" r="2.0"/><circle cx="245.3" cy="45.3" r="3.6"/><circle cx="251.5" cy="49.7" r="3.2"/><circle cx="279.2" cy="57.3" r="4.2"/><circle cx="280.0" cy="92.7" r="3.3"/><circle cx="300.5" cy="61.4" r="3.2"/><circle cx="281.4" cy="84.7" r="2.2"/><circle cx="298.5" cy="108.4" r="3.4"/><circle cx="276.8" cy="61.0" r="3.7"/><circle cx="305.4" cy="75.9" r="4.0"/><circle cx="292.4" cy="103.1" r="2.3"/><circle cx="283.6" cy="98.7" r="3.5"/><circle cx="311.1" cy="85.1" r="2.4"/><circle cx="282.8" cy="49.1" r="3.7"/><circle cx="271.4" cy="76.4" r="4.4"/><circle cx="310.5" cy="86.9" r="2.4"/><circle cx="255.4" cy="51.8" r="4.0"/><circle cx="287.7" cy="84.4" r="2.2"/><circle cx="282.8" cy="108.4" r="2.1"/><circle cx="278.3" cy="108.5" r="2.8"/><circle cx="276.5" cy="45.3" r="1.6"/><circle cx="285.4" cy="79.1" r="3.2"/><circle cx="288.3" cy="73.2" r="3.7"/><circle cx="297.1" cy="95.5" r="2.7"/><circle cx="280.8" cy="61.4" r="3.7"/><circle cx="294.1" cy="89.5" r="2.7"/><circle cx="299.9" cy="81.6" r="2.6"/><circle cx="264.3" cy="55.1" r="4.0"/><circle cx="282.1" cy="101.8" r="2.6"/><circle cx="299.3" cy="69.8" r="3.2"/><circle cx="263.8" cy="83.8" r="1.5"/><circle cx="264.6" cy="63.1" r="2.6"/><circle cx="293.1" cy="96.6" r="4.5"/><circle cx="281.1" cy="66.9" r="4.0"/><circle cx="307.4" cy="86.9" r="4.5"/><circle cx="295.3" cy="61.5" r="2.5"/><circle cx="269.6" cy="68.9" r="4.6"/><circle cx="284.0" cy="75.3" r="3.1"/><circle cx="287.2" cy="99.0" r="3.8"/><circle cx="291.5" cy="75.7" r="4.2"/><circle cx="276.3" cy="81.6" r="3.4"/><circle cx="272.5" cy="87.3" r="2.2"/><circle cx="273.5" cy="98.7" r="4.4"/><circle cx="293.6" cy="49.1" r="2.6"/><circle cx="280.6" cy="99.0" r="4.4"/><circle cx="286.7" cy="86.7" r="3.1"/><circle cx="267.9" cy="58.3" r="3.7"/><circle cx="300.5" cy="89.8" r="3.4"/><circle cx="260.5" cy="54.6" r="3.9"/><circle cx="292.9" cy="72.1" r="3.2"/><circle cx="292.2" cy="69.7" r="2.5"/><circle cx="304.1" cy="84.9" r="3.0"/></g>
<path d="M233.20,45.80 C234.20,44.48 235.52,42.72 236.70,42.70 C237.88,42.68 238.38,44.35 240.30,45.70 C242.22,47.05 245.62,50.15 248.20,50.80 C250.78,51.45 253.53,49.60 255.80,49.60 C258.07,49.60 260.38,49.80 261.80,50.80 C263.22,51.80 264.08,53.13 264.30,55.60 C264.52,58.07 262.88,62.23 263.10,65.60 C263.32,68.97 264.98,72.38 265.60,75.80 C266.22,79.22 266.40,83.12 266.80,86.10 C267.20,89.08 268.20,91.18 268.00,93.70 C267.80,96.22 266.63,98.92 265.60,101.20 C264.57,103.48 263.25,105.53 261.80,107.40 C260.35,109.27 258.78,111.15 256.90,112.40 C255.02,113.65 252.80,114.07 250.50,114.90 C248.20,115.73 245.58,116.78 243.10,117.40 C240.62,118.02 237.88,118.80 235.60,118.60 C233.32,118.40 230.83,117.80 229.40,116.20 C227.97,114.60 227.62,111.90 227.00,109.00 C226.38,106.10 226.13,102.62 225.70,98.80 C225.27,94.98 224.40,90.35 224.40,86.10 C224.40,81.85 225.07,77.57 225.70,73.30 C226.33,69.03 227.37,64.28 228.20,60.50 C229.03,56.72 229.87,53.05 230.70,50.60 C231.53,48.15 232.20,47.12 233.20,45.80Z" fill="#085896"/>
<g fill="url(#gB2)" filter="url(#soft)"><circle cx="241.6" cy="114.7" r="4.2"/><circle cx="233.3" cy="108.9" r="3.0"/><circle cx="251.7" cy="99.1" r="2.5"/><circle cx="260.0" cy="50.2" r="1.7"/><circle cx="261.2" cy="99.4" r="3.0"/><circle cx="228.5" cy="91.5" r="3.8"/><circle cx="253.8" cy="58.0" r="4.5"/><circle cx="228.2" cy="85.1" r="2.5"/><circle cx="237.1" cy="55.4" r="3.7"/><circle cx="235.2" cy="51.5" r="3.7"/><circle cx="230.8" cy="116.9" r="1.5"/><circle cx="232.1" cy="112.1" r="3.1"/><circle cx="239.4" cy="49.9" r="2.4"/><circle cx="226.3" cy="73.3" r="1.7"/><circle cx="246.9" cy="76.9" r="3.3"/><circle cx="237.9" cy="113.6" r="2.8"/><circle cx="260.1" cy="55.9" r="3.1"/><circle cx="259.0" cy="105.7" r="3.9"/><circle cx="245.4" cy="106.3" r="3.6"/><circle cx="250.3" cy="72.8" r="4.6"/><circle cx="227.8" cy="105.5" r="2.9"/><circle cx="246.1" cy="88.4" r="3.2"/><circle cx="251.6" cy="82.0" r="3.7"/><circle cx="246.9" cy="61.2" r="3.1"/><circle cx="233.1" cy="52.1" r="2.8"/><circle cx="253.9" cy="99.0" r="3.7"/><circle cx="259.4" cy="53.2" r="3.4"/><circle cx="230.3" cy="75.3" r="2.8"/><circle cx="231.0" cy="81.8" r="2.3"/><circle cx="240.4" cy="56.2" r="4.0"/><circle cx="240.7" cy="62.1" r="3.5"/><circle cx="256.2" cy="111.6" r="2.1"/><circle cx="249.6" cy="67.8" r="3.9"/><circle cx="236.5" cy="103.0" r="3.9"/><circle cx="251.7" cy="91.1" r="2.5"/><circle cx="244.4" cy="82.0" r="4.2"/><circle cx="238.2" cy="108.6" r="3.8"/><circle cx="264.3" cy="75.8" r="2.4"/><circle cx="260.6" cy="76.3" r="3.7"/><circle cx="245.5" cy="78.8" r="3.4"/><circle cx="261.0" cy="61.0" r="4.0"/><circle cx="249.7" cy="102.4" r="3.3"/><circle cx="246.8" cy="52.6" r="2.8"/><circle cx="239.2" cy="87.1" r="2.6"/><circle cx="231.2" cy="88.6" r="3.8"/><circle cx="254.2" cy="108.9" r="3.9"/><circle cx="237.6" cy="43.8" r="1.8"/><circle cx="226.6" cy="76.3" r="2.4"/><circle cx="228.6" cy="111.8" r="2.3"/><circle cx="251.1" cy="75.8" r="3.3"/><circle cx="231.2" cy="90.2" r="3.3"/><circle cx="234.4" cy="78.6" r="3.2"/><circle cx="239.6" cy="70.0" r="3.5"/><circle cx="261.8" cy="82.3" r="4.3"/><circle cx="249.0" cy="64.0" r="4.0"/><circle cx="262.0" cy="90.8" r="4.3"/><circle cx="252.6" cy="53.2" r="3.9"/><circle cx="262.0" cy="79.5" r="2.8"/><circle cx="237.5" cy="61.1" r="3.8"/><circle cx="253.5" cy="76.4" r="4.0"/><circle cx="247.4" cy="73.2" r="3.1"/><circle cx="241.5" cy="109.4" r="2.3"/><circle cx="241.7" cy="99.4" r="2.9"/><circle cx="249.3" cy="87.5" r="2.3"/><circle cx="244.1" cy="72.5" r="3.5"/><circle cx="247.0" cy="55.5" r="3.0"/><circle cx="242.0" cy="52.1" r="4.1"/><circle cx="253.1" cy="112.2" r="2.9"/><circle cx="238.3" cy="111.8" r="3.7"/><circle cx="250.4" cy="93.2" r="3.2"/><circle cx="262.7" cy="55.1" r="2.7"/><circle cx="243.8" cy="76.3" r="3.6"/><circle cx="250.2" cy="60.6" r="2.7"/><circle cx="244.3" cy="96.1" r="3.6"/><circle cx="227.8" cy="108.4" r="2.1"/><circle cx="256.7" cy="76.1" r="3.9"/><circle cx="263.5" cy="96.0" r="2.2"/><circle cx="259.3" cy="102.0" r="2.3"/><circle cx="260.5" cy="72.8" r="3.0"/><circle cx="264.2" cy="99.6" r="2.8"/><circle cx="244.3" cy="64.8" r="4.3"/><circle cx="252.1" cy="84.0" r="3.7"/><circle cx="234.2" cy="60.8" r="3.5"/><circle cx="232.7" cy="67.1" r="3.5"/><circle cx="229.2" cy="103.5" r="4.1"/><circle cx="237.6" cy="57.6" r="2.4"/><circle cx="231.0" cy="97.5" r="2.3"/><circle cx="257.9" cy="79.7" r="4.0"/><circle cx="234.6" cy="64.0" r="3.2"/><circle cx="251.0" cy="108.5" r="3.7"/><circle cx="242.3" cy="69.7" r="2.4"/><circle cx="251.5" cy="63.6" r="4.3"/><circle cx="231.1" cy="106.3" r="2.3"/><circle cx="236.3" cy="67.7" r="3.4"/><circle cx="233.8" cy="117.6" r="1.9"/><circle cx="251.9" cy="102.1" r="3.4"/><circle cx="236.2" cy="48.9" r="3.2"/><circle cx="241.7" cy="102.1" r="4.5"/><circle cx="241.0" cy="82.6" r="4.4"/><circle cx="255.9" cy="63.7" r="4.3"/><circle cx="255.8" cy="52.0" r="3.5"/><circle cx="227.8" cy="88.7" r="2.3"/><circle cx="242.9" cy="55.5" r="4.4"/><circle cx="240.3" cy="53.3" r="3.4"/><circle cx="236.5" cy="96.3" r="4.3"/><circle cx="241.6" cy="88.4" r="3.8"/><circle cx="240.3" cy="72.4" r="4.0"/><circle cx="252.8" cy="88.6" r="3.8"/><circle cx="252.4" cy="70.9" r="3.6"/><circle cx="249.9" cy="70.9" r="3.1"/><circle cx="245.1" cy="94.5" r="3.8"/><circle cx="256.3" cy="67.4" r="4.0"/><circle cx="245.3" cy="111.1" r="4.4"/><circle cx="228.2" cy="100.5" r="3.1"/><circle cx="264.4" cy="90.1" r="4.3"/><circle cx="257.9" cy="60.9" r="4.4"/><circle cx="259.3" cy="84.6" r="3.6"/><circle cx="226.7" cy="82.6" r="3.3"/><circle cx="234.8" cy="113.8" r="4.5"/><circle cx="239.7" cy="67.1" r="3.7"/><circle cx="251.2" cy="113.6" r="2.3"/><circle cx="265.9" cy="87.8" r="2.5"/><circle cx="230.6" cy="114.0" r="2.8"/><circle cx="230.5" cy="58.7" r="3.0"/><circle cx="249.7" cy="52.3" r="2.6"/><circle cx="237.0" cy="94.4" r="2.8"/><circle cx="246.0" cy="101.9" r="2.4"/><circle cx="224.8" cy="84.1" r="2.3"/><circle cx="255.1" cy="93.2" r="2.3"/><circle cx="261.5" cy="63.6" r="3.0"/><circle cx="249.6" cy="55.8" r="3.6"/><circle cx="235.0" cy="46.7" r="2.6"/><circle cx="230.7" cy="79.6" r="3.2"/><circle cx="236.3" cy="85.6" r="4.5"/><circle cx="233.2" cy="69.3" r="2.7"/><circle cx="256.5" cy="69.2" r="2.7"/><circle cx="248.0" cy="108.1" r="3.9"/><circle cx="257.8" cy="63.9" r="2.2"/><circle cx="251.2" cy="79.6" r="4.4"/><circle cx="258.6" cy="92.9" r="4.0"/><circle cx="252.4" cy="55.7" r="4.4"/><circle cx="230.0" cy="72.6" r="3.1"/><circle cx="244.9" cy="107.9" r="4.5"/><circle cx="244.1" cy="61.0" r="4.0"/><circle cx="231.5" cy="93.8" r="4.4"/><circle cx="248.9" cy="105.4" r="3.7"/><circle cx="247.5" cy="93.0" r="4.2"/><circle cx="250.3" cy="58.6" r="3.0"/><circle cx="238.6" cy="84.7" r="3.8"/><circle cx="255.8" cy="84.2" r="3.4"/><circle cx="253.7" cy="73.1" r="3.3"/><circle cx="243.1" cy="48.8" r="2.1"/><circle cx="265.3" cy="79.7" r="2.5"/><circle cx="236.6" cy="70.1" r="2.7"/><circle cx="242.0" cy="111.6" r="3.8"/><circle cx="251.7" cy="96.6" r="4.5"/><circle cx="227.6" cy="93.9" r="2.6"/><circle cx="231.9" cy="50.0" r="2.3"/><circle cx="246.3" cy="85.5" r="4.0"/><circle cx="240.2" cy="97.1" r="2.5"/><circle cx="256.9" cy="72.9" r="2.7"/><circle cx="244.6" cy="90.7" r="3.1"/><circle cx="252.4" cy="106.4" r="4.1"/><circle cx="236.7" cy="82.7" r="3.5"/><circle cx="233.9" cy="76.9" r="3.8"/><circle cx="247.6" cy="99.5" r="3.0"/><circle cx="236.2" cy="75.9" r="2.9"/><circle cx="248.5" cy="114.8" r="1.9"/><circle cx="258.4" cy="82.4" r="3.5"/><circle cx="230.7" cy="108.4" r="3.2"/><circle cx="227.7" cy="79.8" r="4.0"/><circle cx="248.5" cy="79.8" r="2.6"/><circle cx="236.1" cy="105.9" r="4.6"/><circle cx="256.8" cy="58.0" r="2.9"/><circle cx="242.5" cy="105.8" r="3.8"/><circle cx="262.8" cy="101.9" r="3.4"/><circle cx="260.6" cy="97.2" r="3.3"/><circle cx="240.1" cy="93.2" r="2.9"/><circle cx="235.0" cy="110.7" r="4.5"/><circle cx="247.5" cy="91.7" r="4.4"/><circle cx="247.5" cy="82.7" r="2.3"/><circle cx="240.8" cy="75.6" r="2.7"/><circle cx="248.7" cy="111.5" r="3.3"/><circle cx="257.2" cy="97.1" r="4.3"/><circle cx="255.9" cy="102.1" r="2.6"/><circle cx="240.3" cy="58.6" r="4.0"/><circle cx="247.9" cy="97.4" r="3.2"/><circle cx="258.4" cy="90.2" r="2.8"/><circle cx="233.1" cy="85.0" r="2.6"/><circle cx="237.6" cy="90.2" r="3.7"/><circle cx="255.3" cy="87.3" r="2.7"/><circle cx="244.9" cy="98.9" r="4.3"/><circle cx="239.1" cy="45.7" r="2.1"/><circle cx="237.9" cy="73.5" r="2.8"/><circle cx="254.9" cy="90.2" r="3.0"/><circle cx="240.9" cy="91.7" r="3.8"/><circle cx="232.6" cy="102.2" r="2.5"/><circle cx="238.3" cy="116.7" r="3.0"/><circle cx="233.6" cy="100.4" r="2.6"/><circle cx="242.1" cy="85.0" r="3.9"/><circle cx="238.8" cy="63.6" r="2.7"/><circle cx="248.9" cy="85.4" r="3.2"/><circle cx="229.7" cy="61.2" r="2.8"/><circle cx="229.8" cy="71.0" r="4.0"/><circle cx="246.6" cy="58.3" r="3.3"/><circle cx="265.0" cy="81.7" r="2.5"/><circle cx="253.8" cy="67.5" r="3.2"/><circle cx="234.1" cy="81.7" r="3.2"/><circle cx="246.2" cy="70.9" r="4.6"/><circle cx="259.6" cy="70.5" r="4.2"/><circle cx="260.4" cy="66.5" r="2.3"/><circle cx="246.6" cy="66.8" r="4.4"/><circle cx="231.3" cy="100.0" r="3.9"/><circle cx="234.3" cy="90.2" r="2.7"/><circle cx="262.9" cy="85.0" r="4.6"/><circle cx="228.3" cy="64.7" r="2.5"/><circle cx="264.6" cy="94.5" r="4.2"/><circle cx="226.3" cy="96.2" r="2.1"/><circle cx="254.1" cy="60.8" r="2.3"/><circle cx="256.8" cy="108.8" r="3.9"/><circle cx="255.0" cy="97.6" r="2.5"/><circle cx="241.2" cy="65.1" r="3.5"/><circle cx="237.3" cy="78.2" r="2.5"/><circle cx="233.9" cy="72.4" r="3.5"/><circle cx="242.6" cy="67.0" r="3.4"/><circle cx="233.4" cy="93.4" r="3.5"/><circle cx="244.3" cy="115.3" r="2.8"/><circle cx="260.6" cy="93.4" r="2.7"/><circle cx="235.3" cy="87.3" r="2.5"/><circle cx="255.4" cy="81.4" r="3.2"/><circle cx="255.9" cy="79.0" r="3.1"/><circle cx="262.5" cy="66.4" r="2.1"/><circle cx="257.2" cy="56.0" r="4.4"/><circle cx="237.8" cy="106.3" r="4.5"/><circle cx="258.0" cy="87.1" r="3.3"/><circle cx="233.5" cy="97.6" r="2.6"/><circle cx="233.4" cy="58.1" r="3.0"/><circle cx="255.3" cy="106.0" r="2.8"/><circle cx="263.4" cy="69.8" r="2.2"/><circle cx="244.3" cy="59.1" r="3.1"/><circle cx="241.1" cy="78.4" r="2.5"/><circle cx="262.9" cy="88.6" r="3.4"/><circle cx="261.7" cy="105.0" r="2.6"/><circle cx="259.0" cy="98.8" r="3.3"/><circle cx="260.5" cy="58.2" r="2.7"/><circle cx="237.6" cy="100.0" r="4.0"/><circle cx="231.7" cy="63.8" r="3.2"/><circle cx="238.4" cy="103.2" r="3.5"/><circle cx="232.7" cy="54.9" r="3.2"/><circle cx="229.4" cy="66.4" r="3.7"/></g>
<circle cx="249.5" cy="69.5" r="2.2" fill="#0b5d96"/><circle cx="253.3" cy="83.5" r="2" fill="#0b5d96"/>
<path d="M272,84 Q280,80 284,88 Q284,98 276,100 Q270,96 272,84Z" fill="#5e3188" opacity="0.55"/>
<defs><radialGradient id="gG" cx="0.4" cy="0.36" r="0.64"><stop offset="0" stop-color="#ececec"/><stop offset="0.55" stop-color="#d0d0d0"/><stop offset="0.85" stop-color="#d0d0d0"/><stop offset="1" stop-color="#9a9a9a"/></radialGradient></defs>
<path d="M265.80,73.00 C265.58,71.33 264.80,66.25 264.50,63.00 C264.20,59.75 263.08,55.25 264.00,53.50 C264.92,51.75 267.83,52.50 270.00,52.50 C272.17,52.50 274.67,52.83 277.00,53.50 C279.33,54.17 281.83,55.08 284.00,56.50 C286.17,57.92 288.40,59.75 290.00,62.00 C291.60,64.25 292.77,66.83 293.60,70.00 C294.43,73.17 295.18,77.60 295.00,81.00 C294.82,84.40 293.25,87.23 292.50,90.40 C291.75,93.57 290.58,97.23 290.50,100.00 C290.42,102.77 290.92,104.83 292.00,107.00 C293.08,109.17 295.33,111.33 297.00,113.00 C298.67,114.67 301.17,116.33 302.00,117.00" fill="none" stroke="#a8a8a8" stroke-width="7" stroke-linecap="round" stroke-linejoin="round"/>
<g fill="url(#gG)" filter="url(#soft)"><circle cx="265.0" cy="73.5" r="3.1"/><circle cx="265.6" cy="71.5" r="3.3"/><circle cx="266.3" cy="71.2" r="2.9"/><circle cx="264.7" cy="68.8" r="2.7"/><circle cx="265.4" cy="67.6" r="3.3"/><circle cx="264.3" cy="66.5" r="2.3"/><circle cx="266.0" cy="66.3" r="3.4"/><circle cx="264.9" cy="63.2" r="2.7"/><circle cx="264.5" cy="62.1" r="3.5"/><circle cx="264.0" cy="60.9" r="3.3"/><circle cx="263.3" cy="61.4" r="2.8"/><circle cx="264.1" cy="58.7" r="2.9"/><circle cx="263.0" cy="56.6" r="3.4"/><circle cx="263.0" cy="57.1" r="2.5"/><circle cx="264.8" cy="56.2" r="3.3"/><circle cx="264.4" cy="54.5" r="3.2"/><circle cx="263.1" cy="53.4" r="3.4"/><circle cx="263.7" cy="54.0" r="3.4"/><circle cx="264.8" cy="52.3" r="2.8"/><circle cx="265.5" cy="53.6" r="2.7"/><circle cx="265.4" cy="51.4" r="3.2"/><circle cx="268.6" cy="52.3" r="2.9"/><circle cx="268.4" cy="53.0" r="2.5"/><circle cx="269.4" cy="52.6" r="3.1"/><circle cx="269.2" cy="51.7" r="2.7"/><circle cx="271.9" cy="52.1" r="3.0"/><circle cx="271.2" cy="51.6" r="2.3"/><circle cx="273.3" cy="53.3" r="2.7"/><circle cx="273.9" cy="53.2" r="3.5"/><circle cx="275.4" cy="52.7" r="3.6"/><circle cx="276.3" cy="53.3" r="3.4"/><circle cx="276.1" cy="53.0" r="2.5"/><circle cx="277.9" cy="52.7" r="2.3"/><circle cx="278.6" cy="54.4" r="2.9"/><circle cx="279.6" cy="53.0" r="2.6"/><circle cx="279.2" cy="54.2" r="2.4"/><circle cx="279.5" cy="54.3" r="3.5"/><circle cx="282.6" cy="55.7" r="2.9"/><circle cx="281.7" cy="56.6" r="2.9"/><circle cx="283.7" cy="54.9" r="2.5"/><circle cx="284.8" cy="57.2" r="3.4"/><circle cx="285.1" cy="56.9" r="3.0"/><circle cx="286.5" cy="57.2" r="2.9"/><circle cx="285.9" cy="58.9" r="2.2"/><circle cx="287.7" cy="60.0" r="2.2"/><circle cx="288.2" cy="60.0" r="3.4"/><circle cx="288.9" cy="59.8" r="2.8"/><circle cx="290.5" cy="62.1" r="2.4"/><circle cx="289.0" cy="61.0" r="2.2"/><circle cx="290.5" cy="62.0" r="3.4"/><circle cx="291.5" cy="62.9" r="3.0"/><circle cx="291.2" cy="64.7" r="2.5"/><circle cx="291.3" cy="64.9" r="2.7"/><circle cx="293.0" cy="66.8" r="2.3"/><circle cx="293.4" cy="68.6" r="3.3"/><circle cx="294.0" cy="67.7" r="2.8"/><circle cx="292.6" cy="70.6" r="2.4"/><circle cx="294.4" cy="70.6" r="3.2"/><circle cx="293.7" cy="71.5" r="2.7"/><circle cx="294.0" cy="74.9" r="2.6"/><circle cx="294.7" cy="75.5" r="3.5"/><circle cx="293.9" cy="77.1" r="2.9"/><circle cx="295.5" cy="79.4" r="2.6"/><circle cx="295.5" cy="79.7" r="3.0"/><circle cx="294.0" cy="81.8" r="3.6"/><circle cx="294.5" cy="81.8" r="3.6"/><circle cx="293.7" cy="82.4" r="2.3"/><circle cx="295.1" cy="85.3" r="2.8"/><circle cx="294.3" cy="84.6" r="3.1"/><circle cx="293.4" cy="87.0" r="2.7"/><circle cx="292.9" cy="87.4" r="2.3"/><circle cx="292.7" cy="88.6" r="3.2"/><circle cx="293.3" cy="90.9" r="2.8"/><circle cx="291.6" cy="91.3" r="2.9"/><circle cx="292.2" cy="94.0" r="2.3"/><circle cx="291.5" cy="94.1" r="3.2"/><circle cx="292.2" cy="96.0" r="3.1"/><circle cx="291.6" cy="97.0" r="3.4"/><circle cx="291.2" cy="98.2" r="2.5"/><circle cx="291.6" cy="98.6" r="3.1"/><circle cx="291.3" cy="101.1" r="3.6"/><circle cx="289.3" cy="100.6" r="2.6"/><circle cx="290.3" cy="101.1" r="3.0"/><circle cx="289.6" cy="102.4" r="3.5"/><circle cx="291.4" cy="103.6" r="2.4"/><circle cx="292.1" cy="105.1" r="2.5"/><circle cx="290.9" cy="105.7" r="3.2"/><circle cx="291.0" cy="107.3" r="2.7"/><circle cx="291.4" cy="107.8" r="2.4"/><circle cx="292.9" cy="107.1" r="3.0"/><circle cx="292.5" cy="108.3" r="3.5"/><circle cx="293.5" cy="109.3" r="3.1"/><circle cx="293.8" cy="109.4" r="2.7"/><circle cx="294.4" cy="110.2" r="3.5"/><circle cx="294.6" cy="112.4" r="3.5"/><circle cx="296.8" cy="111.2" r="2.9"/><circle cx="295.9" cy="113.3" r="3.2"/><circle cx="297.0" cy="112.4" r="3.0"/><circle cx="297.4" cy="113.8" r="2.8"/><circle cx="300.0" cy="114.5" r="2.4"/><circle cx="300.5" cy="116.1" r="2.9"/><circle cx="299.4" cy="115.1" r="2.8"/><circle cx="301.2" cy="115.7" r="3.3"/><circle cx="302.4" cy="117.7" r="3.4"/><circle cx="300.8" cy="117.2" r="2.3"/></g>
<text x="1.7" y="15.0" font-size="13" text-anchor="start" font-weight="bold" fill="#000" >a</text>
<text x="55.0" y="27.6" font-size="9.3" text-anchor="middle" font-weight="bold" fill="#111" >Full-length IgG</text>
<text x="267.6" y="19.6" font-size="9.3" text-anchor="middle" font-weight="bold" fill="#111" >Single-chain variable</text>
<text x="267.6" y="30.0" font-size="9.3" text-anchor="middle" font-weight="bold" fill="#111" >fragment (scFv)</text>
<g transform="translate(99.1,93) rotate(-39)"><rect x="-3.6" y="-7.6" width="7.2" height="15.2" rx="3.3000000000000003" fill="#7fd1c9"/><text x="0" y="1" font-size="2.6" text-anchor="middle" fill="#fff" opacity="0.75" transform="rotate(-90)">VH</text></g>
<g transform="translate(109,106) rotate(-39)"><rect x="-3.6" y="-7.6" width="7.2" height="15.2" rx="3.3000000000000003" fill="#7fd1c9"/><text x="0" y="1" font-size="2.6" text-anchor="middle" fill="#fff" opacity="0.75" transform="rotate(-90)">CH1</text></g>
<g transform="translate(91.7,97.9) rotate(-39)"><rect x="-3.6" y="-7.6" width="7.2" height="15.2" rx="3.3000000000000003" fill="#8c5aad"/><text x="0" y="1" font-size="2.6" text-anchor="middle" fill="#fff" opacity="0.75" transform="rotate(-90)">VL</text></g>
<g transform="translate(101.4,109.3) rotate(-39)"><rect x="-3.6" y="-7.6" width="7.2" height="15.2" rx="3.3000000000000003" fill="#8c5aad"/><text x="0" y="1" font-size="2.6" text-anchor="middle" fill="#fff" opacity="0.75" transform="rotate(-90)">CL</text></g>
<g transform="translate(140.5,92) rotate(39)"><rect x="-3.6" y="-7.6" width="7.2" height="15.2" rx="3.3000000000000003" fill="#4f9bee"/><text x="0" y="1" font-size="2.6" text-anchor="middle" fill="#fff" opacity="0.75" transform="rotate(-90)">VH</text></g>
<g transform="translate(130.2,104.5) rotate(39)"><rect x="-3.6" y="-7.6" width="7.2" height="15.2" rx="3.3000000000000003" fill="#4f9bee"/><text x="0" y="1" font-size="2.6" text-anchor="middle" fill="#fff" opacity="0.75" transform="rotate(-90)">CH1</text></g>
<g transform="translate(147.6,98.3) rotate(39)"><rect x="-3.6" y="-7.6" width="7.2" height="15.2" rx="3.3000000000000003" fill="#8c5aad"/><text x="0" y="1" font-size="2.6" text-anchor="middle" fill="#fff" opacity="0.75" transform="rotate(-90)">VL</text></g>
<g transform="translate(137.9,110.7) rotate(39)"><rect x="-3.6" y="-7.6" width="7.2" height="15.2" rx="3.3000000000000003" fill="#8c5aad"/><text x="0" y="1" font-size="2.6" text-anchor="middle" fill="#fff" opacity="0.75" transform="rotate(-90)">CL</text></g>
<g transform="translate(115.25,121) rotate(0)"><rect x="-3.4" y="-7.35" width="6.8" height="14.7" rx="3.1" fill="#7fd1c9"/><text x="0" y="1" font-size="2.6" text-anchor="middle" fill="#fff" opacity="0.75" transform="rotate(-90)">CH2</text></g>
<g transform="translate(115.25,137.3) rotate(0)"><rect x="-3.4" y="-7.45" width="6.8" height="14.9" rx="3.1" fill="#7fd1c9"/><text x="0" y="1" font-size="2.6" text-anchor="middle" fill="#fff" opacity="0.75" transform="rotate(-90)">CH3</text></g>
<g transform="translate(123.9,121) rotate(0)"><rect x="-3.4" y="-7.35" width="6.8" height="14.7" rx="3.1" fill="#4f9bee"/><text x="0" y="1" font-size="2.6" text-anchor="middle" fill="#fff" opacity="0.75" transform="rotate(-90)">CH2</text></g>
<g transform="translate(123.9,137.3) rotate(0)"><rect x="-3.4" y="-7.45" width="6.8" height="14.9" rx="3.1" fill="#4f9bee"/><text x="0" y="1" font-size="2.6" text-anchor="middle" fill="#fff" opacity="0.75" transform="rotate(-90)">CH3</text></g>
<text x="86" y="141" font-size="6.5" text-anchor="middle" font-weight="bold" fill="#111" >Full length IgG</text>
<path d="M153.9,100.3 L166,100.3" stroke="url(#arr)" stroke-width="1.9"/>
<path d="M172.6,100.3 L164.2,96.2 L166.2,100.3 L164.2,104.4 Z" fill="#f57c00"/>
<rect x="174.7" y="87.2" width="10.9" height="21.4" rx="2" fill="#4f9bee"/>
<rect x="190.6" y="87.2" width="11.9" height="21.4" rx="2" fill="#8c5aad"/>
<path d="M181,90.5 L187.8,90.5 Q189.2,90.5 189.2,92 L189.2,103.5 Q189.2,105.2 190.8,105.2 L197,105.2" stroke="#9a9a9a" stroke-width="1.1" fill="none"/>
<text x="180.1" y="100.8" font-size="6.2" text-anchor="middle" font-weight="normal" fill="#fff" opacity="0.85">VH</text>
<text x="196.5" y="100.8" font-size="6.2" text-anchor="middle" font-weight="normal" fill="#fff" opacity="0.85">VL</text>
<text x="188.6" y="78.8" font-size="6.4" text-anchor="middle" font-weight="normal" fill="#8c8c8c" >Interdomain</text>
<text x="188.6" y="85.5" font-size="6.4" text-anchor="middle" font-weight="normal" fill="#8c8c8c" >linker</text>
<text x="189.6" y="117" font-size="6.7" text-anchor="middle" font-weight="bold" fill="#111" >Single chain</text>
<text x="189.6" y="124.6" font-size="6.7" text-anchor="middle" font-weight="bold" fill="#111" >variable fragment</text>
<text x="189.6" y="131.3" font-size="6.7" text-anchor="middle" font-weight="bold" fill="#111" >(scFv)</text>
<text x="327.7" y="13.9" font-size="13" text-anchor="start" font-weight="bold" fill="#000" >b</text>
<text x="375.5" y="18.2" font-size="9.3" text-anchor="middle" font-weight="bold" fill="#8b2a9b" >CDR loops</text>
<path d="M351.30,107.40 C349.83,107.65 344.93,107.57 342.50,108.90 C340.07,110.23 337.92,113.10 336.70,115.40 C335.48,117.70 335.82,120.52 335.20,122.70 C334.58,124.88 334.20,126.70 333.00,128.50 C331.80,130.30 328.12,132.75 328.00,133.50 C327.88,134.25 330.62,133.95 332.30,133.00 C333.98,132.05 336.15,129.27 338.10,127.80 C340.05,126.33 342.28,125.53 344.00,124.20 C345.72,122.87 347.32,121.50 348.40,119.80 C349.48,118.10 350.15,114.97 350.50,114.00" fill="none" stroke="#b9a2c2" stroke-width="2.6" stroke-linecap="round" stroke-linejoin="round" />
<path d="M351.30,107.40 C349.83,107.65 344.93,107.57 342.50,108.90 C340.07,110.23 337.92,113.10 336.70,115.40 C335.48,117.70 335.82,120.52 335.20,122.70 C334.58,124.88 334.20,126.70 333.00,128.50 C331.80,130.30 328.12,132.75 328.00,133.50 C327.88,134.25 330.62,133.95 332.30,133.00 C333.98,132.05 336.15,129.27 338.10,127.80 C340.05,126.33 342.28,125.53 344.00,124.20 C345.72,122.87 347.32,121.50 348.40,119.80 C349.48,118.10 350.15,114.97 350.50,114.00" fill="none" stroke="#eddeed" stroke-width="1.4" stroke-linecap="round" stroke-linejoin="round" />
<path d="M350.50,114.00 C351.12,115.22 352.62,119.60 354.20,121.30 C355.78,123.00 358.05,123.72 360.00,124.20 C361.95,124.68 364.18,124.45 365.90,124.20 C367.62,123.95 369.08,123.18 370.30,122.70 C371.52,122.22 372.72,121.53 373.20,121.30" fill="none" stroke="#b9a2c2" stroke-width="2.6" stroke-linecap="round" stroke-linejoin="round" />
<path d="M350.50,114.00 C351.12,115.22 352.62,119.60 354.20,121.30 C355.78,123.00 358.05,123.72 360.00,124.20 C361.95,124.68 364.18,124.45 365.90,124.20 C367.62,123.95 369.08,123.18 370.30,122.70 C371.52,122.22 372.72,121.53 373.20,121.30" fill="none" stroke="#eddeed" stroke-width="1.4" stroke-linecap="round" stroke-linejoin="round" />
<path d="M373.20,138.80 C374.42,138.55 378.55,138.27 380.50,137.30 C382.45,136.33 383.68,134.70 384.90,133.00 C386.12,131.30 387.08,129.30 387.80,127.10 C388.52,124.90 388.83,122.72 389.20,119.80 C389.57,116.88 389.63,112.27 390.00,109.60 C390.37,106.93 390.57,105.50 391.40,103.80 C392.23,102.10 394.40,100.13 395.00,99.40" fill="none" stroke="#b9a2c2" stroke-width="2.6" stroke-linecap="round" stroke-linejoin="round" />
<path d="M373.20,138.80 C374.42,138.55 378.55,138.27 380.50,137.30 C382.45,136.33 383.68,134.70 384.90,133.00 C386.12,131.30 387.08,129.30 387.80,127.10 C388.52,124.90 388.83,122.72 389.20,119.80 C389.57,116.88 389.63,112.27 390.00,109.60 C390.37,106.93 390.57,105.50 391.40,103.80 C392.23,102.10 394.40,100.13 395.00,99.40" fill="none" stroke="#eddeed" stroke-width="1.4" stroke-linecap="round" stroke-linejoin="round" />
<path d="M392.00,104.00 C392.67,105.33 394.67,109.33 396.00,112.00 C397.33,114.67 399.67,117.50 400.00,120.00 C400.33,122.50 399.33,125.67 398.00,127.00 C396.67,128.33 393.33,128.83 392.00,128.00 C390.67,127.17 389.67,124.33 390.00,122.00 C390.33,119.67 392.00,116.00 394.00,114.00 C396.00,112.00 399.67,110.33 402.00,110.00 C404.33,109.67 405.75,111.33 408.00,112.00 C410.25,112.67 415.17,113.42 415.50,114.00 C415.83,114.58 412.25,115.42 410.00,115.50 C407.75,115.58 403.33,114.67 402.00,114.50" fill="none" stroke="#b9a2c2" stroke-width="2.6" stroke-linecap="round" stroke-linejoin="round" />
<path d="M392.00,104.00 C392.67,105.33 394.67,109.33 396.00,112.00 C397.33,114.67 399.67,117.50 400.00,120.00 C400.33,122.50 399.33,125.67 398.00,127.00 C396.67,128.33 393.33,128.83 392.00,128.00 C390.67,127.17 389.67,124.33 390.00,122.00 C390.33,119.67 392.00,116.00 394.00,114.00 C396.00,112.00 399.67,110.33 402.00,110.00 C404.33,109.67 405.75,111.33 408.00,112.00 C410.25,112.67 415.17,113.42 415.50,114.00 C415.83,114.58 412.25,115.42 410.00,115.50 C407.75,115.58 403.33,114.67 402.00,114.50" fill="none" stroke="#eddeed" stroke-width="1.4" stroke-linecap="round" stroke-linejoin="round" />
<path d="M398.00,100.00 C398.67,101.33 401.00,105.00 402.00,108.00 C403.00,111.00 404.33,115.00 404.00,118.00 C403.67,121.00 401.83,123.83 400.00,126.00 C398.17,128.17 395.33,129.67 393.00,131.00 C390.67,132.33 387.17,133.50 386.00,134.00" fill="none" stroke="#b9a2c2" stroke-width="2.6" stroke-linecap="round" stroke-linejoin="round" />
<path d="M398.00,100.00 C398.67,101.33 401.00,105.00 402.00,108.00 C403.00,111.00 404.33,115.00 404.00,118.00 C403.67,121.00 401.83,123.83 400.00,126.00 C398.17,128.17 395.33,129.67 393.00,131.00 C390.67,132.33 387.17,133.50 386.00,134.00" fill="none" stroke="#eddeed" stroke-width="1.4" stroke-linecap="round" stroke-linejoin="round" />
<path d="M368.8,124.2 L371.7,122.7 L373.9,126.4 L375.4,133 L373.2,141.7 L368.8,138.8 L366.6,133 Z" fill="#ead6ea" stroke="#b9a2c2" stroke-width="0.6"/>
<path d="M350.35,103.71 L350.58,104.25 L350.87,104.94 L351.21,105.76 L351.61,106.70 L352.03,107.71 L352.49,108.76 L352.96,109.83 L353.44,110.88 L353.93,111.90 L354.41,112.84 L354.90,113.74 L355.41,114.62 L355.94,115.50 L356.48,116.36 L357.02,117.20 L357.56,118.02 L358.08,118.81 L358.57,119.56 L359.04,120.28 L359.48,120.97 L359.90,121.64 L360.33,122.31 L360.75,122.97 L361.16,123.61 L361.55,124.22 L361.91,124.79 L362.24,125.30 L362.53,125.76 L362.53,125.76 L364.50,125.50 L365.57,123.82 L365.56,123.82 L365.27,123.36 L364.94,122.85 L364.58,122.28 L364.19,121.68 L363.79,121.04 L363.37,120.38 L362.95,119.71 L362.52,119.03 L362.07,118.33 L361.59,117.59 L361.08,116.82 L360.56,116.04 L360.04,115.24 L359.52,114.43 L359.01,113.61 L358.51,112.79 L358.03,111.97 L357.59,111.16 L357.16,110.30 L356.70,109.36 L356.24,108.35 L355.79,107.32 L355.34,106.29 L354.92,105.30 L354.54,104.38 L354.19,103.54 L353.89,102.83 L353.65,102.29Z" fill="#d6d6d6" stroke="#8f8f8f" stroke-width="0.5" stroke-linejoin="round"/>
<path d="M363.06,71.78 L347.77,46.01 L348.50,45.57 L342.90,42.50 L342.91,48.89 L343.64,48.45 L358.94,74.22Z" fill="#575757" stroke="none" stroke-width="0.6" stroke-linejoin="round"/>
<path d="M391.62,98.72 L364.62,39.39 L366.35,38.60 L358.90,34.30 L357.25,42.74 L358.98,41.96 L385.98,101.28Z" fill="#575757" stroke="none" stroke-width="0.6" stroke-linejoin="round"/>
<path d="M396.90,97.53 L385.12,54.46 L386.18,54.17 L381.00,50.40 L378.46,56.28 L379.52,55.99 L391.30,99.07Z" fill="#575757" stroke="none" stroke-width="0.6" stroke-linejoin="round"/>
<path d="M404.40,100.41 L402.90,53.01 L405.25,52.93 L399.80,46.60 L394.76,53.26 L397.11,53.19 L398.60,100.59Z" fill="#575757" stroke="none" stroke-width="0.6" stroke-linejoin="round"/>
<path d="M360.74,112.78 L367.23,119.21 L366.00,120.45 L372.90,121.30 L371.98,114.41 L370.75,115.65 L364.26,109.22Z" fill="#575757" stroke="none" stroke-width="0.6" stroke-linejoin="round"/>
<path d="M352.79,102.63 L353.00,102.05 L353.26,101.30 L353.57,100.43 L353.92,99.45 L354.29,98.38 L354.69,97.25 L355.10,96.09 L355.51,94.91 L355.91,93.74 L356.30,92.61 L356.68,91.49 L357.07,90.34 L357.47,89.16 L357.87,87.96 L358.28,86.74 L358.69,85.51 L359.10,84.27 L359.50,83.04 L359.91,81.81 L360.31,80.59 L360.72,79.32 L361.16,77.96 L361.61,76.55 L363.85,77.26 L362.40,67.80 L355.75,74.68 L357.99,75.39 L357.54,76.80 L357.10,78.15 L356.69,79.41 L356.30,80.63 L355.89,81.85 L355.49,83.08 L355.08,84.31 L354.67,85.54 L354.27,86.75 L353.87,87.95 L353.47,89.12 L353.08,90.27 L352.70,91.39 L352.32,92.51 L351.92,93.66 L351.51,94.84 L351.10,95.99 L350.71,97.12 L350.33,98.18 L349.99,99.16 L349.68,100.04 L349.41,100.78 L349.21,101.37Z" fill="#d6d6d6" stroke="#8f8f8f" stroke-width="0.5" stroke-linejoin="round"/>
<path d="M357.20,106.97 L357.43,106.43 L357.72,105.76 L358.06,104.98 L358.44,104.10 L358.86,103.15 L359.30,102.14 L359.76,101.11 L360.23,100.06 L360.70,99.03 L361.17,98.03 L361.64,97.04 L362.14,96.02 L362.66,94.98 L363.19,93.92 L363.74,92.83 L364.30,91.73 L364.87,90.60 L365.45,89.44 L366.05,88.27 L366.65,87.07 L367.25,85.85 L367.87,84.61 L368.50,83.33 L369.14,82.04 L369.79,80.74 L370.45,79.42 L371.11,78.09 L371.78,76.76 L372.46,75.42 L373.14,74.10 L373.85,72.70 L374.64,71.20 L375.46,69.63 L376.30,68.03 L378.60,69.25 L378.20,59.30 L369.75,64.58 L372.05,65.80 L371.21,67.39 L370.38,68.98 L369.59,70.49 L368.86,71.90 L368.18,73.25 L367.50,74.60 L366.82,75.94 L366.15,77.28 L365.49,78.60 L364.84,79.91 L364.20,81.20 L363.57,82.47 L362.96,83.71 L362.35,84.93 L361.76,86.11 L361.17,87.28 L360.59,88.42 L360.02,89.55 L359.45,90.67 L358.90,91.76 L358.36,92.84 L357.83,93.90 L357.32,94.94 L356.83,95.97 L356.34,97.01 L355.85,98.08 L355.37,99.15 L354.90,100.21 L354.46,101.23 L354.04,102.19 L353.66,103.07 L353.32,103.85 L353.03,104.51 L352.80,105.03Z" fill="#d6d6d6" stroke="#8f8f8f" stroke-width="0.5" stroke-linejoin="round"/>
<path d="M358.53,111.81 L359.04,111.53 L359.70,111.18 L360.50,110.76 L361.41,110.28 L362.39,109.76 L363.43,109.19 L364.51,108.60 L365.59,107.98 L366.67,107.35 L367.69,106.72 L368.66,106.11 L369.65,105.49 L370.68,104.85 L371.74,104.18 L372.81,103.47 L373.89,102.74 L374.98,101.96 L376.06,101.14 L377.12,100.27 L378.16,99.36 L379.16,98.42 L380.13,97.44 L381.09,96.42 L382.03,95.38 L382.95,94.31 L383.84,93.23 L384.71,92.13 L385.55,91.03 L386.36,89.92 L387.14,88.81 L387.89,87.70 L388.61,86.57 L389.30,85.43 L389.97,84.28 L390.61,83.12 L391.22,81.96 L391.81,80.79 L392.37,79.62 L392.92,78.45 L393.44,77.25 L393.97,75.97 L394.46,74.65 L397.19,75.31 L394.30,64.40 L385.73,71.75 L388.46,72.42 L388.00,73.65 L387.56,74.75 L387.08,75.81 L386.59,76.89 L386.07,77.96 L385.53,79.02 L384.98,80.08 L384.40,81.12 L383.80,82.16 L383.18,83.18 L382.54,84.19 L381.86,85.19 L381.16,86.19 L380.42,87.20 L379.65,88.21 L378.86,89.21 L378.05,90.19 L377.23,91.15 L376.39,92.08 L375.54,92.98 L374.69,93.84 L373.84,94.64 L372.99,95.39 L372.10,96.11 L371.18,96.81 L370.23,97.49 L369.25,98.15 L368.26,98.80 L367.27,99.44 L366.27,100.06 L365.27,100.68 L364.31,101.28 L363.37,101.86 L362.39,102.44 L361.38,103.01 L360.36,103.58 L359.36,104.12 L358.40,104.63 L357.51,105.10 L356.71,105.52 L356.02,105.89 L355.47,106.19Z" fill="#d6d6d6" stroke="#8f8f8f" stroke-width="0.5" stroke-linejoin="round"/>
<path d="M407.67,72.07 L398.24,92.28 L396.11,91.28 L397.70,100.30 L405.63,95.72 L403.50,94.73 L412.93,74.53Z" fill="#d6d6d6" stroke="#8f8f8f" stroke-width="0.5" stroke-linejoin="round"/>
<path d="M357.10,35.00 C356.25,34.00 353.35,30.73 352.00,29.00 C350.65,27.27 348.63,25.45 349.00,24.60 C349.37,23.75 352.23,24.38 354.20,23.90 C356.17,23.42 358.83,22.32 360.80,21.70 C362.77,21.08 364.40,20.52 366.00,20.20 C367.60,19.88 369.55,19.43 370.40,19.80 C371.25,20.17 370.85,21.23 371.10,22.40 C371.35,23.57 371.40,25.45 371.90,26.80 C372.40,28.15 373.25,29.52 374.10,30.50 C374.95,31.48 376.15,32.45 377.00,32.70 C377.85,32.95 378.83,32.12 379.20,32.00" fill="none" stroke="#8b1e99" stroke-width="1.8" stroke-linecap="round" stroke-linejoin="round" />
<path d="M377.80,34.20 C377.92,35.18 378.13,38.13 378.50,40.10 C378.87,42.07 379.63,44.03 380.00,46.00 C380.37,47.97 380.95,49.93 380.70,51.90 C380.45,53.87 379.12,56.32 378.50,57.80 C377.88,59.28 377.25,60.30 377.00,60.80" fill="none" stroke="#8b1e99" stroke-width="1.8" stroke-linecap="round" stroke-linejoin="round" />
<path d="M342.90,48.20 C342.32,49.07 339.62,51.55 339.40,53.40 C339.18,55.25 340.87,57.83 341.60,59.30 C342.33,60.77 342.45,61.72 343.80,62.20 C345.15,62.68 348.22,62.57 349.70,62.20 C351.18,61.83 351.47,60.73 352.70,60.00 C353.93,59.27 356.37,58.17 357.10,57.80" fill="none" stroke="#8b1e99" stroke-width="1.8" stroke-linecap="round" stroke-linejoin="round" />
<path d="M342.90,65.00 C342.08,66.32 338.65,70.58 338.00,72.90 C337.35,75.22 338.02,77.08 339.00,78.90 C339.98,80.72 342.42,82.15 343.90,83.80 C345.38,85.45 347.07,87.30 347.90,88.80 C348.73,90.30 348.73,92.13 348.90,92.80" fill="none" stroke="#8b1e99" stroke-width="1.8" stroke-linecap="round" stroke-linejoin="round" />
<path d="M394.20,65.20 C394.43,63.48 395.73,57.85 395.60,54.90 C395.47,51.95 393.63,49.72 393.40,47.50 C393.17,45.28 393.33,43.20 394.20,41.60 C395.07,40.00 396.88,38.63 398.60,37.90 C400.32,37.17 402.90,36.83 404.50,37.20 C406.10,37.57 407.33,38.38 408.20,40.10 C409.07,41.82 409.22,45.40 409.70,47.50 C410.18,49.60 410.00,51.72 411.10,52.70 C412.20,53.68 414.70,53.03 416.30,53.40 C417.90,53.77 420.45,53.92 420.70,54.90 C420.95,55.88 418.78,57.83 417.80,59.30 C416.82,60.77 415.78,62.23 414.80,63.70 C413.82,65.17 412.87,66.05 411.90,68.10 C410.93,70.15 409.48,74.68 409.00,76.00" fill="none" stroke="#8b1e99" stroke-width="1.8" stroke-linecap="round" stroke-linejoin="round" />
<path d="M386,31 L392,28.5 L397.5,30.5 L398.6,36 L394,40.5 L388,40 L385.3,35 Z" fill="#ead7ea" stroke="#c5a8cc" stroke-width="0.5"/>
<ellipse cx="383.8" cy="29" rx="5.2" ry="4" fill="none" stroke="#8b1e99" stroke-width="1.8"/>
<path d="M378.2,29.5 Q379.5,23 386,23.2 Q390.5,24 390,28.8 Q386.5,26.8 382,27.8 Q380,28.6 378.2,29.5Z" fill="#8b1e99"/>
<rect x="316.1" y="143.9" width="14.6" height="13.9" fill="#d6d6d6"/>
<rect x="330.7" y="143.9" width="14.3" height="13.9" fill="#555" stroke="#333" stroke-width="0.8"/>
<rect x="330.7" y="160.9" width="14.3" height="14.4" fill="#e8d5e8"/>
<text x="345.9" y="154.4" font-size="9.3" text-anchor="start" font-weight="normal" fill="#111" >Framework β-sheet</text>
<text x="345.9" y="171.3" font-size="9.3" text-anchor="start" font-weight="normal" fill="#111" >Framework loop</text>
</svg>
</body></html>
